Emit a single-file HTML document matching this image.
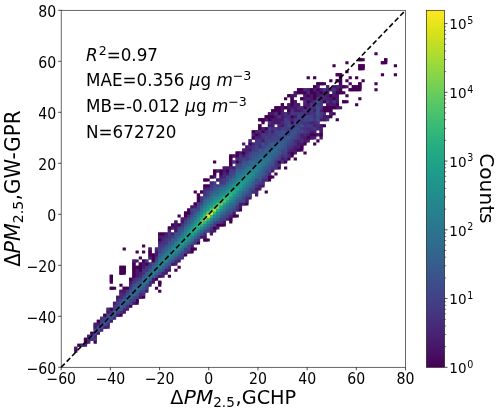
<!DOCTYPE html>
<html><head><meta charset="utf-8"><title>Scatter density</title>
<style>html,body{margin:0;padding:0;background:#fff}svg{display:block}text{font-family:"DejaVu Sans","Liberation Sans",sans-serif;fill:#000}.i{font-style:italic}</style></head><body>
<svg width="500" height="413" viewBox="0 0 500 413">
<rect width="500" height="413" fill="#fff"/>
<defs><linearGradient id="vg" x1="0" y1="1" x2="0" y2="0">
<stop offset="0.0000" stop-color="#440154"/>
<stop offset="0.0312" stop-color="#470d60"/>
<stop offset="0.0625" stop-color="#48186a"/>
<stop offset="0.0938" stop-color="#482374"/>
<stop offset="0.1250" stop-color="#472d7b"/>
<stop offset="0.1562" stop-color="#453781"/>
<stop offset="0.1875" stop-color="#424086"/>
<stop offset="0.2188" stop-color="#3e4989"/>
<stop offset="0.2500" stop-color="#3b528b"/>
<stop offset="0.2812" stop-color="#375b8d"/>
<stop offset="0.3125" stop-color="#33638d"/>
<stop offset="0.3438" stop-color="#2f6b8e"/>
<stop offset="0.3750" stop-color="#2c728e"/>
<stop offset="0.4062" stop-color="#297a8e"/>
<stop offset="0.4375" stop-color="#26828e"/>
<stop offset="0.4688" stop-color="#23898e"/>
<stop offset="0.5000" stop-color="#21918c"/>
<stop offset="0.5312" stop-color="#1f988b"/>
<stop offset="0.5625" stop-color="#1fa088"/>
<stop offset="0.5938" stop-color="#22a785"/>
<stop offset="0.6250" stop-color="#28ae80"/>
<stop offset="0.6562" stop-color="#32b67a"/>
<stop offset="0.6875" stop-color="#3fbc73"/>
<stop offset="0.7188" stop-color="#4ec36b"/>
<stop offset="0.7500" stop-color="#5ec962"/>
<stop offset="0.7812" stop-color="#70cf57"/>
<stop offset="0.8125" stop-color="#84d44b"/>
<stop offset="0.8438" stop-color="#98d83e"/>
<stop offset="0.8750" stop-color="#addc30"/>
<stop offset="0.9062" stop-color="#c2df23"/>
<stop offset="0.9375" stop-color="#d8e219"/>
<stop offset="0.9688" stop-color="#ece51b"/>
<stop offset="1.0000" stop-color="#fde725"/>
</linearGradient></defs>
<g id="cells-under">
<path fill="#48186a" d="M74.2 346.79h3.23v4.01h-3.23zM93.57 325.75h4.23v3.01h-4.23zM93.57 325.75h3.23v4.01h-3.23zM96.8 322.74h4.23v3.01h-4.23zM96.8 322.74h3.23v4.01h-3.23zM106.48 310.72h4.23v3.01h-4.23zM106.48 310.72h3.23v4.01h-3.23zM112.94 301.7h4.23v3.01h-4.23zM112.94 301.7h3.23v4.01h-3.23zM116.16 313.72h4.23v3.01h-4.23zM116.16 295.69h4.23v3.01h-4.23zM116.16 295.69h3.23v4.01h-3.23zM119.39 289.67h4.23v3.01h-4.23zM119.39 289.67h3.23v4.01h-3.23zM122.62 289.67h4.23v3.01h-4.23zM122.62 289.67h3.23v4.01h-3.23zM129.08 280.66h4.23v3.01h-4.23zM129.08 280.66h3.23v4.01h-3.23zM132.3 301.7h4.23v3.01h-4.23zM135.53 274.64h4.23v3.01h-4.23zM135.53 274.64h3.23v4.01h-3.23zM135.53 271.64h4.23v3.01h-4.23zM135.53 271.64h3.23v4.01h-3.23zM135.53 268.63h4.23v3.01h-4.23zM135.53 268.63h3.23v4.01h-3.23zM138.76 295.69h4.23v3.01h-4.23zM141.99 265.63h4.23v3.01h-4.23zM141.99 265.63h3.23v4.01h-3.23zM141.99 262.62h4.23v3.01h-4.23zM141.99 262.62h3.23v4.01h-3.23zM148.44 247.59h3.23v4.01h-3.23zM151.67 277.65h4.23v3.01h-4.23zM151.67 277.65h3.23v4.01h-3.23zM154.9 253.6h4.23v3.01h-4.23zM154.9 253.6h3.23v4.01h-3.23zM154.9 250.6h4.23v3.01h-4.23zM154.9 250.6h3.23v4.01h-3.23zM158.13 274.64h4.23v3.01h-4.23zM158.13 235.57h4.23v3.01h-4.23zM158.13 235.57h3.23v4.01h-3.23zM164.58 232.56h4.23v3.01h-4.23zM164.58 232.56h3.23v4.01h-3.23zM171.04 262.62h4.23v3.01h-4.23zM174.27 229.55h4.23v3.01h-4.23zM174.27 229.55h3.23v4.01h-3.23zM174.27 226.55h4.23v3.01h-4.23zM174.27 226.55h3.23v4.01h-3.23zM174.27 223.54h4.23v3.01h-4.23zM174.27 223.54h3.23v4.01h-3.23zM174.27 220.54h3.23v4.01h-3.23zM180.72 220.54h4.23v3.01h-4.23zM180.72 220.54h3.23v4.01h-3.23zM180.72 217.53h4.23v3.01h-4.23zM180.72 217.53h3.23v4.01h-3.23zM190.41 205.51h4.23v3.01h-4.23zM190.41 205.51h3.23v4.01h-3.23zM200.09 235.57h4.23v3.01h-4.23zM203.32 235.57h3.23v4.01h-3.23zM216.23 178.45h4.23v3.01h-4.23zM219.46 175.45h4.23v3.01h-4.23zM219.46 175.45h3.23v4.01h-3.23zM222.69 220.54h3.23v4.01h-3.23zM222.69 169.43h4.23v3.01h-4.23zM222.69 169.43h3.23v4.01h-3.23zM222.69 166.43h4.23v3.01h-4.23zM222.69 166.43h3.23v4.01h-3.23zM225.92 172.44h4.23v3.01h-4.23zM225.92 172.44h3.23v4.01h-3.23zM225.92 166.43h4.23v3.01h-4.23zM225.92 166.43h3.23v4.01h-3.23zM232.37 211.52h3.23v4.01h-3.23zM232.37 166.43h4.23v3.01h-4.23zM232.37 166.43h3.23v4.01h-3.23zM232.37 154.4h4.23v3.01h-4.23zM238.83 205.51h3.23v4.01h-3.23zM238.83 202.5h4.23v3.01h-4.23zM238.83 202.5h3.23v4.01h-3.23zM238.83 151.4h4.23v3.01h-4.23zM238.83 151.4h3.23v4.01h-3.23zM242.06 202.5h4.23v3.01h-4.23zM242.06 154.4h4.23v3.01h-4.23zM242.06 154.4h3.23v4.01h-3.23zM245.28 145.39h4.23v3.01h-4.23zM245.28 145.39h3.23v4.01h-3.23zM248.51 148.39h4.23v3.01h-4.23zM248.51 148.39h3.23v4.01h-3.23zM254.97 187.47h4.23v3.01h-4.23zM254.97 187.47h3.23v4.01h-3.23zM258.2 133.36h4.23v3.01h-4.23zM258.2 133.36h3.23v4.01h-3.23zM261.42 139.37h4.23v3.01h-4.23zM261.42 139.37h3.23v4.01h-3.23zM264.65 118.33h4.23v3.01h-4.23zM267.88 124.34h4.23v3.01h-4.23zM267.88 124.34h3.23v4.01h-3.23zM267.88 112.32h4.23v3.01h-4.23zM267.88 112.32h3.23v4.01h-3.23zM271.11 124.34h3.23v4.01h-3.23zM271.11 118.33h4.23v3.01h-4.23zM271.11 118.33h3.23v4.01h-3.23zM271.11 112.32h4.23v3.01h-4.23zM271.11 112.32h3.23v4.01h-3.23zM274.34 121.34h4.23v3.01h-4.23zM274.34 118.33h4.23v3.01h-4.23zM274.34 118.33h3.23v4.01h-3.23zM274.34 115.33h4.23v3.01h-4.23zM274.34 115.33h3.23v4.01h-3.23zM277.56 121.34h4.23v3.01h-4.23zM277.56 121.34h3.23v4.01h-3.23zM277.56 118.33h4.23v3.01h-4.23zM277.56 118.33h3.23v4.01h-3.23zM280.79 157.41h4.23v3.01h-4.23zM280.79 157.41h3.23v4.01h-3.23zM280.79 124.34h4.23v3.01h-4.23zM280.79 124.34h3.23v4.01h-3.23zM280.79 118.33h4.23v3.01h-4.23zM280.79 118.33h3.23v4.01h-3.23zM280.79 115.33h4.23v3.01h-4.23zM280.79 115.33h3.23v4.01h-3.23zM280.79 109.31h3.23v4.01h-3.23zM280.79 106.31h4.23v3.01h-4.23zM280.79 106.31h3.23v4.01h-3.23zM287.25 151.4h4.23v3.01h-4.23zM287.25 151.4h3.23v4.01h-3.23zM287.25 112.32h4.23v3.01h-4.23zM287.25 112.32h3.23v4.01h-3.23zM287.25 106.31h4.23v3.01h-4.23zM287.25 106.31h3.23v4.01h-3.23zM287.25 103.3h4.23v3.01h-4.23zM287.25 103.3h3.23v4.01h-3.23zM290.48 106.31h4.23v3.01h-4.23zM290.48 106.31h3.23v4.01h-3.23zM290.48 94.28h4.23v3.01h-4.23zM290.48 94.28h3.23v4.01h-3.23zM293.7 148.39h4.23v3.01h-4.23zM293.7 148.39h3.23v4.01h-3.23zM293.7 145.39h4.23v3.01h-4.23zM293.7 145.39h3.23v4.01h-3.23zM293.7 115.33h4.23v3.01h-4.23zM293.7 115.33h3.23v4.01h-3.23zM293.7 109.31h4.23v3.01h-4.23zM293.7 109.31h3.23v4.01h-3.23zM293.7 106.31h4.23v3.01h-4.23zM293.7 106.31h3.23v4.01h-3.23zM293.7 100.3h3.23v4.01h-3.23zM293.7 91.28h4.23v3.01h-4.23zM293.7 91.28h3.23v4.01h-3.23zM296.93 142.38h4.23v3.01h-4.23zM296.93 142.38h3.23v4.01h-3.23zM296.93 109.31h4.23v3.01h-4.23zM296.93 109.31h3.23v4.01h-3.23zM296.93 103.3h3.23v4.01h-3.23zM300.16 142.38h4.23v3.01h-4.23zM300.16 142.38h3.23v4.01h-3.23zM303.39 139.37h4.23v3.01h-4.23zM303.39 139.37h3.23v4.01h-3.23zM303.39 136.37h4.23v3.01h-4.23zM303.39 136.37h3.23v4.01h-3.23zM303.39 97.29h4.23v3.01h-4.23zM303.39 97.29h3.23v4.01h-3.23zM303.39 94.28h4.23v3.01h-4.23zM303.39 94.28h3.23v4.01h-3.23zM306.62 133.36h4.23v3.01h-4.23zM306.62 133.36h3.23v4.01h-3.23zM306.62 103.3h4.23v3.01h-4.23zM306.62 103.3h3.23v4.01h-3.23zM309.84 136.37h4.23v3.01h-4.23zM309.84 130.36h4.23v3.01h-4.23zM309.84 130.36h3.23v4.01h-3.23zM309.84 100.3h4.23v3.01h-4.23zM309.84 100.3h3.23v4.01h-3.23zM309.84 97.29h4.23v3.01h-4.23zM309.84 97.29h3.23v4.01h-3.23zM309.84 94.28h4.23v3.01h-4.23zM309.84 94.28h3.23v4.01h-3.23zM316.3 133.36h4.23v3.01h-4.23zM316.3 94.28h4.23v3.01h-4.23zM316.3 94.28h3.23v4.01h-3.23zM316.3 91.28h4.23v3.01h-4.23zM316.3 91.28h3.23v4.01h-3.23zM319.53 130.36h3.23v4.01h-3.23zM319.53 124.34h4.23v3.01h-4.23zM319.53 124.34h3.23v4.01h-3.23zM319.53 118.33h4.23v3.01h-4.23zM319.53 88.27h4.23v3.01h-4.23zM319.53 88.27h3.23v4.01h-3.23zM322.76 118.33h4.23v3.01h-4.23zM322.76 115.33h4.23v3.01h-4.23zM322.76 115.33h3.23v4.01h-3.23zM322.76 91.28h4.23v3.01h-4.23zM322.76 91.28h3.23v4.01h-3.23zM325.98 115.33h4.23v3.01h-4.23zM325.98 115.33h3.23v4.01h-3.23zM325.98 103.3h4.23v3.01h-4.23zM325.98 103.3h3.23v4.01h-3.23zM325.98 94.28h4.23v3.01h-4.23zM325.98 94.28h3.23v4.01h-3.23zM325.98 91.28h3.23v4.01h-3.23zM329.21 103.3h4.23v3.01h-4.23zM329.21 103.3h3.23v4.01h-3.23zM329.21 100.3h4.23v3.01h-4.23zM329.21 100.3h3.23v4.01h-3.23zM329.21 97.29h4.23v3.01h-4.23zM329.21 97.29h3.23v4.01h-3.23zM332.44 103.3h4.23v3.01h-4.23zM332.44 103.3h3.23v4.01h-3.23zM332.44 94.28h4.23v3.01h-4.23zM332.44 94.28h3.23v4.01h-3.23zM332.44 85.27h4.23v3.01h-4.23zM332.44 85.27h3.23v4.01h-3.23zM335.67 106.31h4.23v3.01h-4.23zM335.67 100.3h3.23v4.01h-3.23zM335.67 97.29h3.23v4.01h-3.23zM335.67 94.28h3.23v4.01h-3.23zM335.67 88.27h4.23v3.01h-4.23zM335.67 88.27h3.23v4.01h-3.23zM338.9 85.27h4.23v3.01h-4.23zM338.9 85.27h3.23v4.01h-3.23z"/>
<path fill="#440154" d="M77.43 343.78h4.23v3.01h-4.23zM83.88 340.78h4.23v3.01h-4.23zM83.88 340.78h3.23v4.01h-3.23zM83.88 337.77h4.23v3.01h-4.23zM83.88 337.77h3.23v4.01h-3.23zM90.34 331.76h4.23v3.01h-4.23zM90.34 331.76h3.23v4.01h-3.23zM96.8 319.73h4.23v3.01h-4.23zM96.8 319.73h3.23v4.01h-3.23zM103.25 313.72h4.23v3.01h-4.23zM103.25 313.72h3.23v4.01h-3.23zM109.71 307.71h4.23v3.01h-4.23zM109.71 307.71h3.23v4.01h-3.23zM122.62 286.67h4.23v3.01h-4.23zM122.62 286.67h3.23v4.01h-3.23zM125.85 286.67h4.23v3.01h-4.23zM125.85 286.67h3.23v4.01h-3.23zM129.08 277.65h4.23v3.01h-4.23zM129.08 277.65h3.23v4.01h-3.23zM132.3 274.64h4.23v3.01h-4.23zM132.3 274.64h3.23v4.01h-3.23zM132.3 271.64h4.23v3.01h-4.23zM132.3 271.64h3.23v4.01h-3.23zM132.3 268.63h4.23v3.01h-4.23zM132.3 268.63h3.23v4.01h-3.23zM132.3 265.63h4.23v3.01h-4.23zM132.3 265.63h3.23v4.01h-3.23zM132.3 262.62h3.23v4.01h-3.23zM135.53 298.69h3.23v4.01h-3.23zM135.53 265.63h4.23v3.01h-4.23zM135.53 265.63h3.23v4.01h-3.23zM138.76 268.63h4.23v3.01h-4.23zM138.76 268.63h3.23v4.01h-3.23zM138.76 265.63h4.23v3.01h-4.23zM138.76 265.63h3.23v4.01h-3.23zM138.76 262.62h4.23v3.01h-4.23zM138.76 262.62h3.23v4.01h-3.23zM141.99 259.61h4.23v3.01h-4.23zM141.99 259.61h3.23v4.01h-3.23zM145.22 262.62h4.23v3.01h-4.23zM145.22 262.62h3.23v4.01h-3.23zM148.44 253.6h4.23v3.01h-4.23zM148.44 253.6h3.23v4.01h-3.23zM148.44 250.6h3.23v4.01h-3.23zM151.67 259.61h4.23v3.01h-4.23zM151.67 259.61h3.23v4.01h-3.23zM151.67 256.61h4.23v3.01h-4.23zM151.67 256.61h3.23v4.01h-3.23zM151.67 253.6h4.23v3.01h-4.23zM151.67 253.6h3.23v4.01h-3.23zM158.13 280.66h3.23v4.01h-3.23zM158.13 238.57h4.23v3.01h-4.23zM158.13 238.57h3.23v4.01h-3.23zM158.13 232.56h4.23v3.01h-4.23zM158.13 232.56h3.23v4.01h-3.23zM161.36 232.56h4.23v3.01h-4.23zM161.36 232.56h3.23v4.01h-3.23zM167.81 226.55h4.23v3.01h-4.23zM167.81 226.55h3.23v4.01h-3.23zM171.04 223.54h4.23v3.01h-4.23zM171.04 223.54h3.23v4.01h-3.23zM177.5 223.54h4.23v3.01h-4.23zM177.5 223.54h3.23v4.01h-3.23zM183.95 214.52h4.23v3.01h-4.23zM183.95 214.52h3.23v4.01h-3.23zM183.95 211.52h4.23v3.01h-4.23zM183.95 211.52h3.23v4.01h-3.23zM187.18 211.52h4.23v3.01h-4.23zM187.18 211.52h3.23v4.01h-3.23zM187.18 208.51h4.23v3.01h-4.23zM187.18 208.51h3.23v4.01h-3.23zM190.41 247.59h4.23v3.01h-4.23zM190.41 247.59h3.23v4.01h-3.23zM193.64 202.5h4.23v3.01h-4.23zM193.64 202.5h3.23v4.01h-3.23zM196.86 199.49h4.23v3.01h-4.23zM196.86 199.49h3.23v4.01h-3.23zM196.86 196.49h4.23v3.01h-4.23zM196.86 196.49h3.23v4.01h-3.23zM196.86 193.48h3.23v4.01h-3.23zM200.09 190.48h4.23v3.01h-4.23zM203.32 238.57h4.23v3.01h-4.23zM203.32 184.46h4.23v3.01h-4.23zM203.32 184.46h3.23v4.01h-3.23zM203.32 178.45h4.23v3.01h-4.23zM206.55 184.46h4.23v3.01h-4.23zM206.55 184.46h3.23v4.01h-3.23zM209.78 175.45h4.23v3.01h-4.23zM213 226.55h4.23v3.01h-4.23zM213 226.55h3.23v4.01h-3.23zM213 172.44h3.23v4.01h-3.23zM213 169.43h4.23v3.01h-4.23zM213 169.43h3.23v4.01h-3.23zM216.23 223.54h4.23v3.01h-4.23zM216.23 223.54h3.23v4.01h-3.23zM219.46 223.54h4.23v3.01h-4.23zM219.46 172.44h4.23v3.01h-4.23zM219.46 172.44h3.23v4.01h-3.23zM219.46 169.43h4.23v3.01h-4.23zM219.46 169.43h3.23v4.01h-3.23zM225.92 169.43h4.23v3.01h-4.23zM225.92 169.43h3.23v4.01h-3.23zM229.14 217.53h3.23v4.01h-3.23zM229.14 163.42h3.23v4.01h-3.23zM229.14 160.42h4.23v3.01h-4.23zM229.14 160.42h3.23v4.01h-3.23zM229.14 154.4h4.23v3.01h-4.23zM229.14 154.4h3.23v4.01h-3.23zM232.37 214.52h4.23v3.01h-4.23zM235.6 160.42h4.23v3.01h-4.23zM235.6 160.42h3.23v4.01h-3.23zM235.6 154.4h4.23v3.01h-4.23zM235.6 154.4h3.23v4.01h-3.23zM235.6 151.4h4.23v3.01h-4.23zM235.6 151.4h3.23v4.01h-3.23zM242.06 151.4h4.23v3.01h-4.23zM242.06 151.4h3.23v4.01h-3.23zM248.51 142.38h4.23v3.01h-4.23zM248.51 142.38h3.23v4.01h-3.23zM251.74 136.37h4.23v3.01h-4.23zM251.74 130.36h4.23v3.01h-4.23zM251.74 130.36h3.23v4.01h-3.23zM254.97 133.36h4.23v3.01h-4.23zM254.97 133.36h3.23v4.01h-3.23zM258.2 127.35h4.23v3.01h-4.23zM258.2 127.35h3.23v4.01h-3.23zM258.2 124.34h3.23v4.01h-3.23zM258.2 118.33h4.23v3.01h-4.23zM261.42 130.36h4.23v3.01h-4.23zM261.42 130.36h3.23v4.01h-3.23zM261.42 118.33h4.23v3.01h-4.23zM261.42 118.33h3.23v4.01h-3.23zM264.65 127.35h4.23v3.01h-4.23zM264.65 127.35h3.23v4.01h-3.23zM264.65 115.33h4.23v3.01h-4.23zM264.65 115.33h3.23v4.01h-3.23zM267.88 175.45h4.23v3.01h-4.23zM267.88 175.45h3.23v4.01h-3.23zM267.88 118.33h4.23v3.01h-4.23zM267.88 118.33h3.23v4.01h-3.23zM267.88 115.33h4.23v3.01h-4.23zM267.88 115.33h3.23v4.01h-3.23zM271.11 115.33h4.23v3.01h-4.23zM271.11 115.33h3.23v4.01h-3.23zM271.11 109.31h4.23v3.01h-4.23zM271.11 109.31h3.23v4.01h-3.23zM274.34 109.31h4.23v3.01h-4.23zM274.34 109.31h3.23v4.01h-3.23zM274.34 106.31h4.23v3.01h-4.23zM274.34 106.31h3.23v4.01h-3.23zM277.56 160.42h4.23v3.01h-4.23zM277.56 160.42h3.23v4.01h-3.23zM277.56 112.32h4.23v3.01h-4.23zM277.56 112.32h3.23v4.01h-3.23zM277.56 109.31h4.23v3.01h-4.23zM277.56 109.31h3.23v4.01h-3.23zM277.56 106.31h4.23v3.01h-4.23zM277.56 106.31h3.23v4.01h-3.23zM280.79 103.3h3.23v4.01h-3.23zM284.02 106.31h4.23v3.01h-4.23zM287.25 109.31h4.23v3.01h-4.23zM287.25 109.31h3.23v4.01h-3.23zM287.25 94.28h4.23v3.01h-4.23zM290.48 151.4h4.23v3.01h-4.23zM290.48 151.4h3.23v4.01h-3.23zM290.48 121.34h4.23v3.01h-4.23zM290.48 121.34h3.23v4.01h-3.23zM290.48 115.33h4.23v3.01h-4.23zM290.48 115.33h3.23v4.01h-3.23zM290.48 103.3h4.23v3.01h-4.23zM290.48 103.3h3.23v4.01h-3.23zM290.48 100.3h4.23v3.01h-4.23zM290.48 100.3h3.23v4.01h-3.23zM290.48 97.29h3.23v4.01h-3.23zM296.93 148.39h4.23v3.01h-4.23zM296.93 91.28h4.23v3.01h-4.23zM296.93 88.27h4.23v3.01h-4.23zM296.93 88.27h3.23v4.01h-3.23zM300.16 145.39h3.23v4.01h-3.23zM300.16 97.29h4.23v3.01h-4.23zM300.16 91.28h4.23v3.01h-4.23zM300.16 88.27h4.23v3.01h-4.23zM300.16 88.27h3.23v4.01h-3.23zM303.39 106.31h4.23v3.01h-4.23zM303.39 106.31h3.23v4.01h-3.23zM303.39 91.28h4.23v3.01h-4.23zM303.39 91.28h3.23v4.01h-3.23zM306.62 136.37h4.23v3.01h-4.23zM306.62 136.37h3.23v4.01h-3.23zM306.62 100.3h4.23v3.01h-4.23zM306.62 100.3h3.23v4.01h-3.23zM306.62 94.28h4.23v3.01h-4.23zM306.62 94.28h3.23v4.01h-3.23zM309.84 133.36h4.23v3.01h-4.23zM309.84 133.36h3.23v4.01h-3.23zM309.84 91.28h4.23v3.01h-4.23zM309.84 91.28h3.23v4.01h-3.23zM309.84 88.27h4.23v3.01h-4.23zM309.84 88.27h3.23v4.01h-3.23zM313.07 133.36h4.23v3.01h-4.23zM313.07 133.36h3.23v4.01h-3.23zM313.07 97.29h4.23v3.01h-4.23zM313.07 97.29h3.23v4.01h-3.23zM313.07 94.28h4.23v3.01h-4.23zM313.07 94.28h3.23v4.01h-3.23zM313.07 91.28h4.23v3.01h-4.23zM313.07 91.28h3.23v4.01h-3.23zM313.07 85.27h4.23v3.01h-4.23zM313.07 85.27h3.23v4.01h-3.23zM316.3 88.27h4.23v3.01h-4.23zM316.3 88.27h3.23v4.01h-3.23zM319.53 133.36h3.23v4.01h-3.23zM319.53 91.28h4.23v3.01h-4.23zM319.53 91.28h3.23v4.01h-3.23zM322.76 109.31h4.23v3.01h-4.23zM322.76 109.31h3.23v4.01h-3.23zM322.76 106.31h4.23v3.01h-4.23zM322.76 106.31h3.23v4.01h-3.23zM322.76 100.3h4.23v3.01h-4.23zM325.98 109.31h4.23v3.01h-4.23zM325.98 106.31h4.23v3.01h-4.23zM325.98 106.31h3.23v4.01h-3.23zM329.21 109.31h3.23v4.01h-3.23zM329.21 106.31h4.23v3.01h-4.23zM329.21 106.31h3.23v4.01h-3.23zM329.21 94.28h4.23v3.01h-4.23zM329.21 94.28h3.23v4.01h-3.23zM332.44 106.31h4.23v3.01h-4.23zM332.44 97.29h4.23v3.01h-4.23zM332.44 97.29h3.23v4.01h-3.23zM335.67 103.3h3.23v4.01h-3.23zM335.67 91.28h4.23v3.01h-4.23zM335.67 91.28h3.23v4.01h-3.23zM338.9 91.28h4.23v3.01h-4.23zM338.9 88.27h3.23v4.01h-3.23zM342.12 100.3h4.23v3.01h-4.23zM342.12 85.27h4.23v3.01h-4.23zM348.58 88.27h4.23v3.01h-4.23zM355.04 85.27h4.23v3.01h-4.23zM355.04 85.27h3.23v4.01h-3.23zM229.14 157.41h3.23v4.01h-3.23zM119.39 268.63h4.23v3.01h-4.23zM119.39 268.63h3.23v4.01h-3.23zM119.39 265.63h4.23v3.01h-4.23zM119.39 265.63h3.23v4.01h-3.23zM109.71 277.65h3.23v4.01h-3.23zM109.71 274.64h3.23v4.01h-3.23zM109.71 286.67h4.23v3.01h-4.23zM119.39 271.64h4.23v3.01h-4.23zM122.62 268.63h3.23v4.01h-3.23zM122.62 265.63h3.23v4.01h-3.23zM358.26 58.21h4.23v3.01h-4.23zM358.26 67.23h4.23v3.01h-4.23zM358.26 64.22h4.23v3.01h-4.23zM358.26 64.22h3.23v4.01h-3.23zM361.49 64.22h3.23v4.01h-3.23zM384.09 58.21h3.23v4.01h-3.23zM380.86 61.22h4.23v3.01h-4.23zM358.26 82.26h3.23v4.01h-3.23zM358.26 85.27h3.23v4.01h-3.23zM351.81 85.27h4.23v3.01h-4.23zM351.81 85.27h3.23v4.01h-3.23zM351.81 88.27h4.23v3.01h-4.23zM355.04 88.27h4.23v3.01h-4.23zM335.67 73.24h4.23v3.01h-4.23zM338.9 73.24h3.23v4.01h-3.23zM338.9 76.25h3.23v4.01h-3.23zM335.67 79.25h4.23v3.01h-4.23zM338.9 79.25h3.23v4.01h-3.23zM316.3 82.26h4.23v3.01h-4.23zM316.3 82.26h3.23v4.01h-3.23zM319.53 82.26h4.23v3.01h-4.23zM338.9 82.26h3.23v4.01h-3.23z"/>
<path fill="#482878" d="M80.66 343.78h4.23v3.01h-4.23zM87.11 337.77h4.23v3.01h-4.23zM87.11 337.77h3.23v4.01h-3.23zM93.57 334.76h3.23v4.01h-3.23zM106.48 322.74h3.23v4.01h-3.23zM106.48 307.71h4.23v3.01h-4.23zM106.48 307.71h3.23v4.01h-3.23zM116.16 298.69h4.23v3.01h-4.23zM116.16 298.69h3.23v4.01h-3.23zM119.39 310.72h4.23v3.01h-4.23zM119.39 310.72h3.23v4.01h-3.23zM119.39 295.69h4.23v3.01h-4.23zM119.39 295.69h3.23v4.01h-3.23zM119.39 292.68h4.23v3.01h-4.23zM119.39 292.68h3.23v4.01h-3.23zM122.62 307.71h4.23v3.01h-4.23zM122.62 307.71h3.23v4.01h-3.23zM122.62 292.68h4.23v3.01h-4.23zM122.62 292.68h3.23v4.01h-3.23zM129.08 283.66h4.23v3.01h-4.23zM129.08 283.66h3.23v4.01h-3.23zM138.76 292.68h4.23v3.01h-4.23zM138.76 292.68h3.23v4.01h-3.23zM138.76 274.64h4.23v3.01h-4.23zM138.76 274.64h3.23v4.01h-3.23zM154.9 247.59h4.23v3.01h-4.23zM154.9 247.59h3.23v4.01h-3.23zM158.13 241.58h4.23v3.01h-4.23zM158.13 241.58h3.23v4.01h-3.23zM161.36 238.57h4.23v3.01h-4.23zM161.36 238.57h3.23v4.01h-3.23zM164.58 235.57h4.23v3.01h-4.23zM164.58 235.57h3.23v4.01h-3.23zM174.27 259.61h4.23v3.01h-4.23zM174.27 259.61h3.23v4.01h-3.23zM183.95 217.53h4.23v3.01h-4.23zM183.95 217.53h3.23v4.01h-3.23zM187.18 214.52h4.23v3.01h-4.23zM187.18 214.52h3.23v4.01h-3.23zM203.32 232.56h3.23v4.01h-3.23zM206.55 187.47h4.23v3.01h-4.23zM206.55 187.47h3.23v4.01h-3.23zM209.78 181.46h4.23v3.01h-4.23zM209.78 181.46h3.23v4.01h-3.23zM222.69 175.45h4.23v3.01h-4.23zM222.69 175.45h3.23v4.01h-3.23zM222.69 172.44h4.23v3.01h-4.23zM222.69 172.44h3.23v4.01h-3.23zM229.14 166.43h4.23v3.01h-4.23zM229.14 166.43h3.23v4.01h-3.23zM235.6 208.51h4.23v3.01h-4.23zM235.6 157.41h4.23v3.01h-4.23zM235.6 157.41h3.23v4.01h-3.23zM245.28 196.49h4.23v3.01h-4.23zM245.28 196.49h3.23v4.01h-3.23zM245.28 151.4h4.23v3.01h-4.23zM245.28 151.4h3.23v4.01h-3.23zM248.51 145.39h4.23v3.01h-4.23zM248.51 145.39h3.23v4.01h-3.23zM248.51 139.37h3.23v4.01h-3.23zM251.74 190.48h4.23v3.01h-4.23zM251.74 142.38h4.23v3.01h-4.23zM251.74 142.38h3.23v4.01h-3.23zM254.97 190.48h3.23v4.01h-3.23zM258.2 145.39h4.23v3.01h-4.23zM258.2 145.39h3.23v4.01h-3.23zM258.2 130.36h4.23v3.01h-4.23zM258.2 130.36h3.23v4.01h-3.23zM261.42 178.45h4.23v3.01h-4.23zM261.42 178.45h3.23v4.01h-3.23zM264.65 178.45h4.23v3.01h-4.23zM264.65 130.36h4.23v3.01h-4.23zM264.65 130.36h3.23v4.01h-3.23zM267.88 172.44h3.23v4.01h-3.23zM277.56 163.42h3.23v4.01h-3.23zM277.56 127.35h4.23v3.01h-4.23zM277.56 127.35h3.23v4.01h-3.23zM277.56 124.34h4.23v3.01h-4.23zM277.56 124.34h3.23v4.01h-3.23zM280.79 121.34h4.23v3.01h-4.23zM280.79 121.34h3.23v4.01h-3.23zM284.02 157.41h4.23v3.01h-4.23zM284.02 157.41h3.23v4.01h-3.23zM284.02 115.33h4.23v3.01h-4.23zM284.02 115.33h3.23v4.01h-3.23zM287.25 154.4h4.23v3.01h-4.23zM287.25 154.4h3.23v4.01h-3.23zM287.25 148.39h4.23v3.01h-4.23zM287.25 148.39h3.23v4.01h-3.23zM293.7 139.37h4.23v3.01h-4.23zM293.7 139.37h3.23v4.01h-3.23zM296.93 106.31h4.23v3.01h-4.23zM296.93 106.31h3.23v4.01h-3.23zM300.16 106.31h4.23v3.01h-4.23zM300.16 106.31h3.23v4.01h-3.23zM303.39 133.36h4.23v3.01h-4.23zM303.39 133.36h3.23v4.01h-3.23zM303.39 100.3h4.23v3.01h-4.23zM303.39 100.3h3.23v4.01h-3.23zM303.39 88.27h4.23v3.01h-4.23zM303.39 88.27h3.23v4.01h-3.23zM306.62 127.35h4.23v3.01h-4.23zM306.62 127.35h3.23v4.01h-3.23zM306.62 112.32h4.23v3.01h-4.23zM306.62 112.32h3.23v4.01h-3.23zM306.62 109.31h4.23v3.01h-4.23zM306.62 109.31h3.23v4.01h-3.23zM306.62 106.31h4.23v3.01h-4.23zM306.62 106.31h3.23v4.01h-3.23zM306.62 91.28h4.23v3.01h-4.23zM306.62 91.28h3.23v4.01h-3.23zM313.07 121.34h4.23v3.01h-4.23zM313.07 121.34h3.23v4.01h-3.23zM316.3 127.35h4.23v3.01h-4.23zM316.3 124.34h4.23v3.01h-4.23zM316.3 124.34h3.23v4.01h-3.23zM322.76 112.32h3.23v4.01h-3.23zM322.76 97.29h4.23v3.01h-4.23zM322.76 97.29h3.23v4.01h-3.23zM322.76 94.28h4.23v3.01h-4.23zM322.76 94.28h3.23v4.01h-3.23z"/>
<path fill="#482071" d="M87.11 334.76h4.23v3.01h-4.23zM87.11 334.76h3.23v4.01h-3.23zM93.57 322.74h4.23v3.01h-4.23zM93.57 322.74h3.23v4.01h-3.23zM103.25 325.75h4.23v3.01h-4.23zM132.3 277.65h4.23v3.01h-4.23zM132.3 277.65h3.23v4.01h-3.23zM132.3 259.61h4.23v3.01h-4.23zM132.3 259.61h3.23v4.01h-3.23zM138.76 271.64h4.23v3.01h-4.23zM138.76 271.64h3.23v4.01h-3.23zM148.44 256.61h4.23v3.01h-4.23zM161.36 271.64h4.23v3.01h-4.23zM161.36 271.64h3.23v4.01h-3.23zM161.36 235.57h4.23v3.01h-4.23zM161.36 235.57h3.23v4.01h-3.23zM164.58 268.63h4.23v3.01h-4.23zM164.58 268.63h3.23v4.01h-3.23zM167.81 229.55h3.23v4.01h-3.23zM171.04 232.56h4.23v3.01h-4.23zM171.04 232.56h3.23v4.01h-3.23zM171.04 226.55h4.23v3.01h-4.23zM187.18 250.6h4.23v3.01h-4.23zM190.41 244.58h3.23v4.01h-3.23zM193.64 205.51h4.23v3.01h-4.23zM193.64 205.51h3.23v4.01h-3.23zM203.32 187.47h4.23v3.01h-4.23zM203.32 187.47h3.23v4.01h-3.23zM209.78 229.55h4.23v3.01h-4.23zM209.78 229.55h3.23v4.01h-3.23zM216.23 169.43h4.23v3.01h-4.23zM225.92 217.53h4.23v3.01h-4.23zM229.14 214.52h4.23v3.01h-4.23zM229.14 214.52h3.23v4.01h-3.23zM242.06 148.39h4.23v3.01h-4.23zM242.06 148.39h3.23v4.01h-3.23zM245.28 199.49h3.23v4.01h-3.23zM245.28 148.39h4.23v3.01h-4.23zM245.28 148.39h3.23v4.01h-3.23zM251.74 133.36h4.23v3.01h-4.23zM251.74 133.36h3.23v4.01h-3.23zM254.97 136.37h4.23v3.01h-4.23zM254.97 136.37h3.23v4.01h-3.23zM254.97 130.36h4.23v3.01h-4.23zM254.97 130.36h3.23v4.01h-3.23zM258.2 184.46h4.23v3.01h-4.23zM258.2 184.46h3.23v4.01h-3.23zM258.2 136.37h4.23v3.01h-4.23zM258.2 136.37h3.23v4.01h-3.23zM261.42 127.35h4.23v3.01h-4.23zM261.42 127.35h3.23v4.01h-3.23zM271.11 130.36h4.23v3.01h-4.23zM271.11 130.36h3.23v4.01h-3.23zM271.11 121.34h4.23v3.01h-4.23zM271.11 121.34h3.23v4.01h-3.23zM280.79 112.32h4.23v3.01h-4.23zM280.79 112.32h3.23v4.01h-3.23zM290.48 148.39h4.23v3.01h-4.23zM290.48 148.39h3.23v4.01h-3.23zM290.48 118.33h4.23v3.01h-4.23zM290.48 118.33h3.23v4.01h-3.23zM293.7 103.3h4.23v3.01h-4.23zM293.7 103.3h3.23v4.01h-3.23zM296.93 145.39h4.23v3.01h-4.23zM296.93 145.39h3.23v4.01h-3.23zM296.93 139.37h4.23v3.01h-4.23zM296.93 139.37h3.23v4.01h-3.23zM300.16 136.37h4.23v3.01h-4.23zM300.16 136.37h3.23v4.01h-3.23zM300.16 133.36h4.23v3.01h-4.23zM300.16 133.36h3.23v4.01h-3.23zM300.16 109.31h4.23v3.01h-4.23zM300.16 109.31h3.23v4.01h-3.23zM303.39 103.3h4.23v3.01h-4.23zM303.39 103.3h3.23v4.01h-3.23zM306.62 97.29h4.23v3.01h-4.23zM306.62 97.29h3.23v4.01h-3.23zM306.62 88.27h4.23v3.01h-4.23zM306.62 88.27h3.23v4.01h-3.23zM309.84 121.34h4.23v3.01h-4.23zM309.84 121.34h3.23v4.01h-3.23zM313.07 130.36h3.23v4.01h-3.23zM313.07 124.34h4.23v3.01h-4.23zM313.07 124.34h3.23v4.01h-3.23zM313.07 109.31h4.23v3.01h-4.23zM313.07 109.31h3.23v4.01h-3.23zM313.07 88.27h4.23v3.01h-4.23zM313.07 88.27h3.23v4.01h-3.23zM316.3 85.27h3.23v4.01h-3.23zM319.53 127.35h3.23v4.01h-3.23zM319.53 109.31h4.23v3.01h-4.23zM319.53 109.31h3.23v4.01h-3.23zM319.53 97.29h4.23v3.01h-4.23zM319.53 97.29h3.23v4.01h-3.23zM319.53 94.28h4.23v3.01h-4.23zM319.53 94.28h3.23v4.01h-3.23zM325.98 97.29h4.23v3.01h-4.23zM325.98 97.29h3.23v4.01h-3.23zM325.98 88.27h4.23v3.01h-4.23zM325.98 88.27h3.23v4.01h-3.23zM325.98 85.27h3.23v4.01h-3.23zM329.21 112.32h4.23v3.01h-4.23zM329.21 112.32h3.23v4.01h-3.23zM329.21 88.27h4.23v3.01h-4.23zM332.44 91.28h4.23v3.01h-4.23zM332.44 91.28h3.23v4.01h-3.23zM335.67 85.27h4.23v3.01h-4.23zM335.67 85.27h3.23v4.01h-3.23z"/>
<path fill="#46307e" d="M90.34 337.77h4.23v3.01h-4.23zM100.02 316.73h4.23v3.01h-4.23zM100.02 316.73h3.23v4.01h-3.23zM109.71 310.72h4.23v3.01h-4.23zM109.71 310.72h3.23v4.01h-3.23zM125.85 304.7h4.23v3.01h-4.23zM125.85 304.7h3.23v4.01h-3.23zM141.99 292.68h3.23v4.01h-3.23zM141.99 271.64h4.23v3.01h-4.23zM141.99 271.64h3.23v4.01h-3.23zM148.44 280.66h4.23v3.01h-4.23zM148.44 280.66h3.23v4.01h-3.23zM148.44 262.62h4.23v3.01h-4.23zM148.44 262.62h3.23v4.01h-3.23zM161.36 241.58h4.23v3.01h-4.23zM161.36 241.58h3.23v4.01h-3.23zM167.81 265.63h3.23v4.01h-3.23zM196.86 238.57h3.23v4.01h-3.23zM203.32 190.48h4.23v3.01h-4.23zM203.32 190.48h3.23v4.01h-3.23zM219.46 220.54h4.23v3.01h-4.23zM219.46 220.54h3.23v4.01h-3.23zM238.83 160.42h4.23v3.01h-4.23zM238.83 160.42h3.23v4.01h-3.23zM261.42 181.46h3.23v4.01h-3.23zM261.42 136.37h4.23v3.01h-4.23zM261.42 136.37h3.23v4.01h-3.23zM267.88 121.34h4.23v3.01h-4.23zM267.88 121.34h3.23v4.01h-3.23zM271.11 127.35h4.23v3.01h-4.23zM271.11 127.35h3.23v4.01h-3.23zM274.34 163.42h4.23v3.01h-4.23zM274.34 163.42h3.23v4.01h-3.23zM274.34 112.32h4.23v3.01h-4.23zM274.34 112.32h3.23v4.01h-3.23zM280.79 160.42h4.23v3.01h-4.23zM280.79 154.4h4.23v3.01h-4.23zM280.79 154.4h3.23v4.01h-3.23zM284.02 112.32h4.23v3.01h-4.23zM284.02 112.32h3.23v4.01h-3.23zM287.25 118.33h4.23v3.01h-4.23zM287.25 118.33h3.23v4.01h-3.23zM287.25 115.33h4.23v3.01h-4.23zM287.25 115.33h3.23v4.01h-3.23zM290.48 145.39h4.23v3.01h-4.23zM290.48 145.39h3.23v4.01h-3.23zM293.7 142.38h4.23v3.01h-4.23zM293.7 142.38h3.23v4.01h-3.23zM300.16 139.37h4.23v3.01h-4.23zM300.16 139.37h3.23v4.01h-3.23zM303.39 127.35h4.23v3.01h-4.23zM303.39 127.35h3.23v4.01h-3.23zM303.39 112.32h4.23v3.01h-4.23zM303.39 112.32h3.23v4.01h-3.23zM306.62 130.36h4.23v3.01h-4.23zM306.62 130.36h3.23v4.01h-3.23zM306.62 121.34h4.23v3.01h-4.23zM306.62 121.34h3.23v4.01h-3.23zM309.84 127.35h4.23v3.01h-4.23zM309.84 127.35h3.23v4.01h-3.23zM313.07 115.33h4.23v3.01h-4.23zM313.07 115.33h3.23v4.01h-3.23zM313.07 106.31h4.23v3.01h-4.23zM313.07 106.31h3.23v4.01h-3.23zM313.07 103.3h4.23v3.01h-4.23zM313.07 103.3h3.23v4.01h-3.23zM313.07 100.3h4.23v3.01h-4.23zM313.07 100.3h3.23v4.01h-3.23zM316.3 97.29h4.23v3.01h-4.23zM316.3 97.29h3.23v4.01h-3.23zM319.53 100.3h4.23v3.01h-4.23zM319.53 100.3h3.23v4.01h-3.23zM325.98 100.3h4.23v3.01h-4.23zM325.98 100.3h3.23v4.01h-3.23z"/>
<path fill="#3e4a89" d="M90.34 334.76h4.23v3.01h-4.23zM90.34 334.76h3.23v4.01h-3.23zM103.25 319.73h4.23v3.01h-4.23zM103.25 319.73h3.23v4.01h-3.23zM125.85 292.68h4.23v3.01h-4.23zM125.85 292.68h3.23v4.01h-3.23zM132.3 295.69h4.23v3.01h-4.23zM132.3 295.69h3.23v4.01h-3.23zM141.99 274.64h4.23v3.01h-4.23zM141.99 274.64h3.23v4.01h-3.23zM154.9 259.61h4.23v3.01h-4.23zM154.9 259.61h3.23v4.01h-3.23zM158.13 271.64h4.23v3.01h-4.23zM158.13 271.64h3.23v4.01h-3.23zM164.58 265.63h4.23v3.01h-4.23zM164.58 265.63h3.23v4.01h-3.23zM177.5 229.55h4.23v3.01h-4.23zM177.5 229.55h3.23v4.01h-3.23zM180.72 226.55h4.23v3.01h-4.23zM180.72 226.55h3.23v4.01h-3.23zM193.64 208.51h4.23v3.01h-4.23zM193.64 208.51h3.23v4.01h-3.23zM196.86 235.57h4.23v3.01h-4.23zM196.86 235.57h3.23v4.01h-3.23zM200.09 232.56h4.23v3.01h-4.23zM200.09 232.56h3.23v4.01h-3.23zM213 184.46h4.23v3.01h-4.23zM213 184.46h3.23v4.01h-3.23zM222.69 214.52h4.23v3.01h-4.23zM222.69 214.52h3.23v4.01h-3.23zM229.14 175.45h4.23v3.01h-4.23zM229.14 175.45h3.23v4.01h-3.23zM232.37 172.44h4.23v3.01h-4.23zM232.37 172.44h3.23v4.01h-3.23zM238.83 199.49h4.23v3.01h-4.23zM238.83 199.49h3.23v4.01h-3.23zM248.51 187.47h4.23v3.01h-4.23zM248.51 187.47h3.23v4.01h-3.23zM248.51 157.41h4.23v3.01h-4.23zM248.51 157.41h3.23v4.01h-3.23zM248.51 154.4h4.23v3.01h-4.23zM248.51 154.4h3.23v4.01h-3.23zM251.74 151.4h4.23v3.01h-4.23zM251.74 151.4h3.23v4.01h-3.23zM254.97 178.45h4.23v3.01h-4.23zM254.97 178.45h3.23v4.01h-3.23zM274.34 157.41h4.23v3.01h-4.23zM274.34 157.41h3.23v4.01h-3.23zM274.34 139.37h4.23v3.01h-4.23zM274.34 139.37h3.23v4.01h-3.23zM277.56 133.36h4.23v3.01h-4.23zM277.56 133.36h3.23v4.01h-3.23zM280.79 133.36h4.23v3.01h-4.23zM280.79 133.36h3.23v4.01h-3.23zM284.02 148.39h4.23v3.01h-4.23zM284.02 148.39h3.23v4.01h-3.23zM287.25 130.36h4.23v3.01h-4.23zM287.25 130.36h3.23v4.01h-3.23zM293.7 133.36h4.23v3.01h-4.23zM293.7 133.36h3.23v4.01h-3.23z"/>
<path fill="#463480" d="M93.57 337.77h3.23v4.01h-3.23zM112.94 304.7h4.23v3.01h-4.23zM112.94 304.7h3.23v4.01h-3.23zM125.85 289.67h4.23v3.01h-4.23zM125.85 289.67h3.23v4.01h-3.23zM132.3 280.66h4.23v3.01h-4.23zM132.3 280.66h3.23v4.01h-3.23zM141.99 268.63h4.23v3.01h-4.23zM141.99 268.63h3.23v4.01h-3.23zM145.22 268.63h4.23v3.01h-4.23zM145.22 268.63h3.23v4.01h-3.23zM145.22 265.63h4.23v3.01h-4.23zM145.22 265.63h3.23v4.01h-3.23zM154.9 256.61h4.23v3.01h-4.23zM154.9 256.61h3.23v4.01h-3.23zM167.81 235.57h4.23v3.01h-4.23zM167.81 235.57h3.23v4.01h-3.23zM167.81 232.56h4.23v3.01h-4.23zM167.81 232.56h3.23v4.01h-3.23zM180.72 223.54h4.23v3.01h-4.23zM180.72 223.54h3.23v4.01h-3.23zM193.64 241.58h4.23v3.01h-4.23zM203.32 193.48h4.23v3.01h-4.23zM203.32 193.48h3.23v4.01h-3.23zM209.78 226.55h4.23v3.01h-4.23zM209.78 226.55h3.23v4.01h-3.23zM209.78 184.46h4.23v3.01h-4.23zM209.78 184.46h3.23v4.01h-3.23zM219.46 181.46h4.23v3.01h-4.23zM219.46 181.46h3.23v4.01h-3.23zM219.46 178.45h4.23v3.01h-4.23zM219.46 178.45h3.23v4.01h-3.23zM235.6 205.51h4.23v3.01h-4.23zM235.6 205.51h3.23v4.01h-3.23zM238.83 157.41h4.23v3.01h-4.23zM238.83 157.41h3.23v4.01h-3.23zM238.83 154.4h4.23v3.01h-4.23zM238.83 154.4h3.23v4.01h-3.23zM251.74 145.39h4.23v3.01h-4.23zM251.74 145.39h3.23v4.01h-3.23zM254.97 139.37h4.23v3.01h-4.23zM254.97 139.37h3.23v4.01h-3.23zM258.2 142.38h4.23v3.01h-4.23zM258.2 142.38h3.23v4.01h-3.23zM258.2 139.37h4.23v3.01h-4.23zM258.2 139.37h3.23v4.01h-3.23zM264.65 133.36h4.23v3.01h-4.23zM264.65 133.36h3.23v4.01h-3.23zM271.11 166.43h4.23v3.01h-4.23zM271.11 166.43h3.23v4.01h-3.23zM274.34 160.42h4.23v3.01h-4.23zM274.34 160.42h3.23v4.01h-3.23zM277.56 115.33h4.23v3.01h-4.23zM277.56 115.33h3.23v4.01h-3.23zM284.02 124.34h4.23v3.01h-4.23zM284.02 124.34h3.23v4.01h-3.23zM290.48 109.31h4.23v3.01h-4.23zM290.48 109.31h3.23v4.01h-3.23zM293.7 112.32h4.23v3.01h-4.23zM293.7 112.32h3.23v4.01h-3.23zM303.39 124.34h4.23v3.01h-4.23zM303.39 124.34h3.23v4.01h-3.23zM303.39 121.34h4.23v3.01h-4.23zM303.39 121.34h3.23v4.01h-3.23zM303.39 109.31h4.23v3.01h-4.23zM303.39 109.31h3.23v4.01h-3.23zM309.84 112.32h4.23v3.01h-4.23zM309.84 112.32h3.23v4.01h-3.23zM309.84 109.31h4.23v3.01h-4.23zM309.84 109.31h3.23v4.01h-3.23zM309.84 106.31h4.23v3.01h-4.23zM309.84 106.31h3.23v4.01h-3.23zM313.07 118.33h4.23v3.01h-4.23zM313.07 118.33h3.23v4.01h-3.23zM313.07 112.32h4.23v3.01h-4.23zM313.07 112.32h3.23v4.01h-3.23zM316.3 121.34h3.23v4.01h-3.23zM319.53 115.33h4.23v3.01h-4.23zM319.53 115.33h3.23v4.01h-3.23zM319.53 106.31h4.23v3.01h-4.23zM319.53 106.31h3.23v4.01h-3.23zM322.76 88.27h4.23v3.01h-4.23zM322.76 88.27h3.23v4.01h-3.23zM332.44 100.3h4.23v3.01h-4.23zM332.44 100.3h3.23v4.01h-3.23z"/>
<path fill="#3d4e8a" d="M93.57 331.76h4.23v3.01h-4.23zM93.57 331.76h3.23v4.01h-3.23zM93.57 328.75h4.23v3.01h-4.23zM93.57 328.75h3.23v4.01h-3.23zM96.8 328.75h4.23v3.01h-4.23zM96.8 328.75h3.23v4.01h-3.23zM100.02 325.75h4.23v3.01h-4.23zM100.02 325.75h3.23v4.01h-3.23zM100.02 322.74h4.23v3.01h-4.23zM100.02 322.74h3.23v4.01h-3.23zM109.71 316.73h4.23v3.01h-4.23zM109.71 316.73h3.23v4.01h-3.23zM112.94 313.72h4.23v3.01h-4.23zM112.94 313.72h3.23v4.01h-3.23zM122.62 304.7h4.23v3.01h-4.23zM122.62 304.7h3.23v4.01h-3.23zM125.85 301.7h4.23v3.01h-4.23zM125.85 301.7h3.23v4.01h-3.23zM132.3 283.66h4.23v3.01h-4.23zM132.3 283.66h3.23v4.01h-3.23zM161.36 268.63h4.23v3.01h-4.23zM161.36 268.63h3.23v4.01h-3.23zM161.36 247.59h4.23v3.01h-4.23zM161.36 247.59h3.23v4.01h-3.23zM164.58 244.58h4.23v3.01h-4.23zM164.58 244.58h3.23v4.01h-3.23zM171.04 259.61h4.23v3.01h-4.23zM171.04 259.61h3.23v4.01h-3.23zM174.27 256.61h4.23v3.01h-4.23zM174.27 256.61h3.23v4.01h-3.23zM190.41 241.58h4.23v3.01h-4.23zM190.41 241.58h3.23v4.01h-3.23zM190.41 214.52h4.23v3.01h-4.23zM190.41 214.52h3.23v4.01h-3.23zM196.86 208.51h4.23v3.01h-4.23zM196.86 208.51h3.23v4.01h-3.23zM200.09 202.5h4.23v3.01h-4.23zM200.09 202.5h3.23v4.01h-3.23zM213 220.54h4.23v3.01h-4.23zM213 220.54h3.23v4.01h-3.23zM225.92 211.52h4.23v3.01h-4.23zM225.92 211.52h3.23v4.01h-3.23zM235.6 202.5h4.23v3.01h-4.23zM235.6 202.5h3.23v4.01h-3.23zM235.6 166.43h4.23v3.01h-4.23zM235.6 166.43h3.23v4.01h-3.23zM242.06 160.42h4.23v3.01h-4.23zM242.06 160.42h3.23v4.01h-3.23zM254.97 181.46h4.23v3.01h-4.23zM254.97 181.46h3.23v4.01h-3.23zM254.97 151.4h4.23v3.01h-4.23zM254.97 151.4h3.23v4.01h-3.23zM261.42 142.38h4.23v3.01h-4.23zM261.42 142.38h3.23v4.01h-3.23zM267.88 166.43h4.23v3.01h-4.23zM267.88 166.43h3.23v4.01h-3.23zM271.11 163.42h4.23v3.01h-4.23zM271.11 163.42h3.23v4.01h-3.23zM277.56 139.37h4.23v3.01h-4.23zM277.56 139.37h3.23v4.01h-3.23zM280.79 130.36h4.23v3.01h-4.23zM280.79 130.36h3.23v4.01h-3.23zM284.02 145.39h4.23v3.01h-4.23zM284.02 145.39h3.23v4.01h-3.23zM284.02 130.36h4.23v3.01h-4.23zM284.02 130.36h3.23v4.01h-3.23zM287.25 139.37h4.23v3.01h-4.23zM287.25 139.37h3.23v4.01h-3.23zM287.25 124.34h4.23v3.01h-4.23zM287.25 124.34h3.23v4.01h-3.23zM290.48 136.37h4.23v3.01h-4.23zM290.48 136.37h3.23v4.01h-3.23zM290.48 130.36h4.23v3.01h-4.23zM290.48 130.36h3.23v4.01h-3.23zM293.7 127.35h4.23v3.01h-4.23zM293.7 127.35h3.23v4.01h-3.23zM296.93 127.35h4.23v3.01h-4.23zM296.93 127.35h3.23v4.01h-3.23zM316.3 118.33h4.23v3.01h-4.23zM316.3 118.33h3.23v4.01h-3.23zM316.3 109.31h4.23v3.01h-4.23zM316.3 109.31h3.23v4.01h-3.23z"/>
<path fill="#414487" d="M96.8 325.75h4.23v3.01h-4.23zM96.8 325.75h3.23v4.01h-3.23zM187.18 247.59h4.23v3.01h-4.23zM187.18 247.59h3.23v4.01h-3.23zM193.64 238.57h4.23v3.01h-4.23zM193.64 238.57h3.23v4.01h-3.23zM196.86 205.51h4.23v3.01h-4.23zM196.86 205.51h3.23v4.01h-3.23zM206.55 190.48h4.23v3.01h-4.23zM206.55 190.48h3.23v4.01h-3.23zM229.14 211.52h4.23v3.01h-4.23zM229.14 211.52h3.23v4.01h-3.23zM229.14 172.44h4.23v3.01h-4.23zM229.14 172.44h3.23v4.01h-3.23zM232.37 208.51h4.23v3.01h-4.23zM232.37 208.51h3.23v4.01h-3.23zM245.28 193.48h4.23v3.01h-4.23zM245.28 193.48h3.23v4.01h-3.23zM251.74 187.47h4.23v3.01h-4.23zM251.74 187.47h3.23v4.01h-3.23zM267.88 169.43h4.23v3.01h-4.23zM267.88 169.43h3.23v4.01h-3.23zM271.11 139.37h4.23v3.01h-4.23zM271.11 139.37h3.23v4.01h-3.23zM274.34 130.36h4.23v3.01h-4.23zM274.34 130.36h3.23v4.01h-3.23zM277.56 130.36h4.23v3.01h-4.23zM277.56 130.36h3.23v4.01h-3.23zM293.7 136.37h4.23v3.01h-4.23zM293.7 136.37h3.23v4.01h-3.23zM306.62 115.33h4.23v3.01h-4.23zM306.62 115.33h3.23v4.01h-3.23z"/>
<path fill="#443b84" d="M100.02 319.73h4.23v3.01h-4.23zM100.02 319.73h3.23v4.01h-3.23zM112.94 307.71h4.23v3.01h-4.23zM112.94 307.71h3.23v4.01h-3.23zM116.16 310.72h4.23v3.01h-4.23zM116.16 310.72h3.23v4.01h-3.23zM129.08 286.67h4.23v3.01h-4.23zM129.08 286.67h3.23v4.01h-3.23zM154.9 274.64h4.23v3.01h-4.23zM154.9 274.64h3.23v4.01h-3.23zM161.36 244.58h4.23v3.01h-4.23zM161.36 244.58h3.23v4.01h-3.23zM167.81 238.57h4.23v3.01h-4.23zM167.81 238.57h3.23v4.01h-3.23zM177.5 256.61h4.23v3.01h-4.23zM177.5 256.61h3.23v4.01h-3.23zM183.95 250.6h4.23v3.01h-4.23zM183.95 250.6h3.23v4.01h-3.23zM196.86 202.5h4.23v3.01h-4.23zM196.86 202.5h3.23v4.01h-3.23zM200.09 199.49h4.23v3.01h-4.23zM200.09 199.49h3.23v4.01h-3.23zM213 181.46h3.23v4.01h-3.23zM222.69 178.45h4.23v3.01h-4.23zM222.69 178.45h3.23v4.01h-3.23zM229.14 169.43h4.23v3.01h-4.23zM229.14 169.43h3.23v4.01h-3.23zM248.51 151.4h4.23v3.01h-4.23zM248.51 151.4h3.23v4.01h-3.23zM251.74 148.39h4.23v3.01h-4.23zM251.74 148.39h3.23v4.01h-3.23zM254.97 142.38h4.23v3.01h-4.23zM254.97 142.38h3.23v4.01h-3.23zM258.2 181.46h4.23v3.01h-4.23zM258.2 181.46h3.23v4.01h-3.23zM264.65 142.38h4.23v3.01h-4.23zM264.65 142.38h3.23v4.01h-3.23zM271.11 133.36h4.23v3.01h-4.23zM271.11 133.36h3.23v4.01h-3.23zM284.02 127.35h4.23v3.01h-4.23zM284.02 127.35h3.23v4.01h-3.23zM290.48 142.38h4.23v3.01h-4.23zM290.48 142.38h3.23v4.01h-3.23zM290.48 112.32h4.23v3.01h-4.23zM290.48 112.32h3.23v4.01h-3.23zM306.62 124.34h4.23v3.01h-4.23zM306.62 124.34h3.23v4.01h-3.23zM309.84 103.3h4.23v3.01h-4.23zM309.84 103.3h3.23v4.01h-3.23z"/>
<path fill="#3b528b" d="M103.25 322.74h4.23v3.01h-4.23zM103.25 322.74h3.23v4.01h-3.23zM106.48 319.73h4.23v3.01h-4.23zM106.48 319.73h3.23v4.01h-3.23zM106.48 316.73h4.23v3.01h-4.23zM106.48 316.73h3.23v4.01h-3.23zM119.39 307.71h4.23v3.01h-4.23zM119.39 307.71h3.23v4.01h-3.23zM119.39 301.7h4.23v3.01h-4.23zM119.39 301.7h3.23v4.01h-3.23zM151.67 262.62h4.23v3.01h-4.23zM151.67 262.62h3.23v4.01h-3.23zM167.81 262.62h4.23v3.01h-4.23zM167.81 262.62h3.23v4.01h-3.23zM174.27 232.56h4.23v3.01h-4.23zM174.27 232.56h3.23v4.01h-3.23zM177.5 253.6h4.23v3.01h-4.23zM177.5 253.6h3.23v4.01h-3.23zM177.5 232.56h4.23v3.01h-4.23zM177.5 232.56h3.23v4.01h-3.23zM180.72 250.6h4.23v3.01h-4.23zM180.72 250.6h3.23v4.01h-3.23zM183.95 223.54h4.23v3.01h-4.23zM183.95 223.54h3.23v4.01h-3.23zM203.32 196.49h4.23v3.01h-4.23zM203.32 196.49h3.23v4.01h-3.23zM206.55 226.55h4.23v3.01h-4.23zM206.55 226.55h3.23v4.01h-3.23zM209.78 223.54h4.23v3.01h-4.23zM209.78 223.54h3.23v4.01h-3.23zM213 187.47h4.23v3.01h-4.23zM213 187.47h3.23v4.01h-3.23zM229.14 208.51h4.23v3.01h-4.23zM229.14 208.51h3.23v4.01h-3.23zM238.83 166.43h4.23v3.01h-4.23zM238.83 166.43h3.23v4.01h-3.23zM245.28 160.42h4.23v3.01h-4.23zM245.28 160.42h3.23v4.01h-3.23zM251.74 184.46h4.23v3.01h-4.23zM251.74 184.46h3.23v4.01h-3.23zM251.74 154.4h4.23v3.01h-4.23zM251.74 154.4h3.23v4.01h-3.23zM258.2 178.45h4.23v3.01h-4.23zM258.2 178.45h3.23v4.01h-3.23zM258.2 151.4h4.23v3.01h-4.23zM258.2 151.4h3.23v4.01h-3.23zM261.42 148.39h4.23v3.01h-4.23zM261.42 148.39h3.23v4.01h-3.23zM264.65 145.39h4.23v3.01h-4.23zM264.65 145.39h3.23v4.01h-3.23zM267.88 142.38h4.23v3.01h-4.23zM267.88 142.38h3.23v4.01h-3.23zM271.11 160.42h4.23v3.01h-4.23zM271.11 160.42h3.23v4.01h-3.23zM280.79 136.37h4.23v3.01h-4.23zM280.79 136.37h3.23v4.01h-3.23zM284.02 142.38h4.23v3.01h-4.23zM284.02 142.38h3.23v4.01h-3.23zM300.16 124.34h4.23v3.01h-4.23zM300.16 124.34h3.23v4.01h-3.23zM316.3 112.32h4.23v3.01h-4.23zM316.3 112.32h3.23v4.01h-3.23zM316.3 106.31h4.23v3.01h-4.23zM316.3 106.31h3.23v4.01h-3.23zM316.3 100.3h4.23v3.01h-4.23zM316.3 100.3h3.23v4.01h-3.23z"/>
<path fill="#453882" d="M103.25 316.73h4.23v3.01h-4.23zM103.25 316.73h3.23v4.01h-3.23zM135.53 277.65h4.23v3.01h-4.23zM135.53 277.65h3.23v4.01h-3.23zM145.22 286.67h3.23v4.01h-3.23zM145.22 259.61h3.23v4.01h-3.23zM158.13 244.58h4.23v3.01h-4.23zM158.13 244.58h3.23v4.01h-3.23zM164.58 241.58h4.23v3.01h-4.23zM164.58 241.58h3.23v4.01h-3.23zM164.58 238.57h4.23v3.01h-4.23zM164.58 238.57h3.23v4.01h-3.23zM190.41 211.52h4.23v3.01h-4.23zM190.41 211.52h3.23v4.01h-3.23zM200.09 196.49h4.23v3.01h-4.23zM200.09 196.49h3.23v4.01h-3.23zM213 223.54h4.23v3.01h-4.23zM213 223.54h3.23v4.01h-3.23zM232.37 160.42h4.23v3.01h-4.23zM245.28 157.41h4.23v3.01h-4.23zM245.28 157.41h3.23v4.01h-3.23zM245.28 154.4h4.23v3.01h-4.23zM245.28 154.4h3.23v4.01h-3.23zM254.97 184.46h4.23v3.01h-4.23zM254.97 184.46h3.23v4.01h-3.23zM261.42 133.36h4.23v3.01h-4.23zM261.42 133.36h3.23v4.01h-3.23zM264.65 175.45h4.23v3.01h-4.23zM264.65 175.45h3.23v4.01h-3.23zM267.88 136.37h4.23v3.01h-4.23zM267.88 136.37h3.23v4.01h-3.23zM267.88 133.36h4.23v3.01h-4.23zM267.88 133.36h3.23v4.01h-3.23zM267.88 130.36h4.23v3.01h-4.23zM267.88 130.36h3.23v4.01h-3.23zM274.34 166.43h4.23v3.01h-4.23zM274.34 127.35h4.23v3.01h-4.23zM274.34 127.35h3.23v4.01h-3.23zM284.02 154.4h4.23v3.01h-4.23zM284.02 154.4h3.23v4.01h-3.23zM284.02 121.34h4.23v3.01h-4.23zM284.02 121.34h3.23v4.01h-3.23zM287.25 145.39h4.23v3.01h-4.23zM287.25 145.39h3.23v4.01h-3.23zM287.25 127.35h4.23v3.01h-4.23zM287.25 127.35h3.23v4.01h-3.23zM290.48 124.34h4.23v3.01h-4.23zM290.48 124.34h3.23v4.01h-3.23zM293.7 118.33h4.23v3.01h-4.23zM293.7 118.33h3.23v4.01h-3.23zM296.93 136.37h4.23v3.01h-4.23zM296.93 136.37h3.23v4.01h-3.23zM296.93 133.36h4.23v3.01h-4.23zM296.93 133.36h3.23v4.01h-3.23zM296.93 112.32h4.23v3.01h-4.23zM296.93 112.32h3.23v4.01h-3.23zM300.16 127.35h4.23v3.01h-4.23zM300.16 127.35h3.23v4.01h-3.23zM300.16 121.34h4.23v3.01h-4.23zM300.16 121.34h3.23v4.01h-3.23zM300.16 118.33h4.23v3.01h-4.23zM300.16 118.33h3.23v4.01h-3.23zM300.16 115.33h4.23v3.01h-4.23zM300.16 115.33h3.23v4.01h-3.23zM300.16 112.32h4.23v3.01h-4.23zM300.16 112.32h3.23v4.01h-3.23zM303.39 130.36h4.23v3.01h-4.23zM303.39 130.36h3.23v4.01h-3.23zM309.84 124.34h4.23v3.01h-4.23zM309.84 124.34h3.23v4.01h-3.23zM313.07 127.35h4.23v3.01h-4.23zM313.07 127.35h3.23v4.01h-3.23zM319.53 112.32h4.23v3.01h-4.23zM319.53 112.32h3.23v4.01h-3.23zM319.53 103.3h3.23v4.01h-3.23zM332.44 88.27h4.23v3.01h-4.23zM332.44 88.27h3.23v4.01h-3.23z"/>
<path fill="#3f4788" d="M106.48 313.72h4.23v3.01h-4.23zM106.48 313.72h3.23v4.01h-3.23zM119.39 298.69h4.23v3.01h-4.23zM119.39 298.69h3.23v4.01h-3.23zM129.08 301.7h4.23v3.01h-4.23zM129.08 301.7h3.23v4.01h-3.23zM135.53 280.66h4.23v3.01h-4.23zM135.53 280.66h3.23v4.01h-3.23zM138.76 289.67h4.23v3.01h-4.23zM138.76 289.67h3.23v4.01h-3.23zM145.22 283.66h4.23v3.01h-4.23zM145.22 283.66h3.23v4.01h-3.23zM187.18 244.58h4.23v3.01h-4.23zM187.18 244.58h3.23v4.01h-3.23zM187.18 217.53h4.23v3.01h-4.23zM187.18 217.53h3.23v4.01h-3.23zM190.41 208.51h4.23v3.01h-4.23zM190.41 208.51h3.23v4.01h-3.23zM203.32 229.55h4.23v3.01h-4.23zM203.32 229.55h3.23v4.01h-3.23zM206.55 193.48h4.23v3.01h-4.23zM206.55 193.48h3.23v4.01h-3.23zM225.92 178.45h4.23v3.01h-4.23zM225.92 178.45h3.23v4.01h-3.23zM225.92 175.45h4.23v3.01h-4.23zM225.92 175.45h3.23v4.01h-3.23zM238.83 163.42h4.23v3.01h-4.23zM238.83 163.42h3.23v4.01h-3.23zM242.06 199.49h4.23v3.01h-4.23zM242.06 199.49h3.23v4.01h-3.23zM242.06 196.49h4.23v3.01h-4.23zM242.06 196.49h3.23v4.01h-3.23zM248.51 190.48h4.23v3.01h-4.23zM248.51 190.48h3.23v4.01h-3.23zM261.42 175.45h4.23v3.01h-4.23zM261.42 175.45h3.23v4.01h-3.23zM264.65 172.44h4.23v3.01h-4.23zM264.65 172.44h3.23v4.01h-3.23zM264.65 169.43h4.23v3.01h-4.23zM264.65 169.43h3.23v4.01h-3.23zM267.88 139.37h4.23v3.01h-4.23zM267.88 139.37h3.23v4.01h-3.23zM274.34 136.37h4.23v3.01h-4.23zM274.34 136.37h3.23v4.01h-3.23zM277.56 154.4h4.23v3.01h-4.23zM277.56 154.4h3.23v4.01h-3.23zM280.79 148.39h4.23v3.01h-4.23zM280.79 148.39h3.23v4.01h-3.23zM284.02 133.36h4.23v3.01h-4.23zM284.02 133.36h3.23v4.01h-3.23zM287.25 142.38h4.23v3.01h-4.23zM287.25 142.38h3.23v4.01h-3.23zM287.25 133.36h4.23v3.01h-4.23zM287.25 133.36h3.23v4.01h-3.23zM290.48 127.35h4.23v3.01h-4.23zM290.48 127.35h3.23v4.01h-3.23zM296.93 124.34h4.23v3.01h-4.23zM296.93 124.34h3.23v4.01h-3.23zM300.16 130.36h4.23v3.01h-4.23zM300.16 130.36h3.23v4.01h-3.23zM303.39 118.33h4.23v3.01h-4.23zM303.39 118.33h3.23v4.01h-3.23zM309.84 118.33h4.23v3.01h-4.23zM309.84 118.33h3.23v4.01h-3.23zM316.3 115.33h4.23v3.01h-4.23zM316.3 115.33h3.23v4.01h-3.23z"/>
<path fill="#39558c" d="M109.71 313.72h4.23v3.01h-4.23zM109.71 313.72h3.23v4.01h-3.23zM129.08 289.67h4.23v3.01h-4.23zM129.08 289.67h3.23v4.01h-3.23zM135.53 292.68h4.23v3.01h-4.23zM135.53 292.68h3.23v4.01h-3.23zM141.99 286.67h4.23v3.01h-4.23zM141.99 286.67h3.23v4.01h-3.23zM167.81 241.58h4.23v3.01h-4.23zM167.81 241.58h3.23v4.01h-3.23zM174.27 235.57h4.23v3.01h-4.23zM174.27 235.57h3.23v4.01h-3.23zM193.64 211.52h4.23v3.01h-4.23zM193.64 211.52h3.23v4.01h-3.23zM209.78 190.48h4.23v3.01h-4.23zM209.78 190.48h3.23v4.01h-3.23zM219.46 184.46h4.23v3.01h-4.23zM219.46 184.46h3.23v4.01h-3.23zM254.97 154.4h4.23v3.01h-4.23zM254.97 154.4h3.23v4.01h-3.23zM258.2 148.39h4.23v3.01h-4.23zM258.2 148.39h3.23v4.01h-3.23zM267.88 163.42h4.23v3.01h-4.23zM267.88 163.42h3.23v4.01h-3.23zM267.88 145.39h4.23v3.01h-4.23zM267.88 145.39h3.23v4.01h-3.23zM284.02 136.37h4.23v3.01h-4.23zM284.02 136.37h3.23v4.01h-3.23zM290.48 133.36h4.23v3.01h-4.23zM290.48 133.36h3.23v4.01h-3.23zM293.7 130.36h4.23v3.01h-4.23zM293.7 130.36h3.23v4.01h-3.23z"/>
<path fill="#33638d" d="M112.94 310.72h4.23v3.01h-4.23zM112.94 310.72h3.23v4.01h-3.23zM129.08 292.68h4.23v3.01h-4.23zM129.08 292.68h3.23v4.01h-3.23zM151.67 274.64h4.23v3.01h-4.23zM151.67 274.64h3.23v4.01h-3.23zM151.67 265.63h4.23v3.01h-4.23zM151.67 265.63h3.23v4.01h-3.23zM154.9 271.64h4.23v3.01h-4.23zM154.9 271.64h3.23v4.01h-3.23zM154.9 262.62h4.23v3.01h-4.23zM154.9 262.62h3.23v4.01h-3.23zM158.13 268.63h4.23v3.01h-4.23zM158.13 268.63h3.23v4.01h-3.23zM161.36 265.63h4.23v3.01h-4.23zM161.36 265.63h3.23v4.01h-3.23zM164.58 262.62h4.23v3.01h-4.23zM164.58 262.62h3.23v4.01h-3.23zM167.81 259.61h4.23v3.01h-4.23zM167.81 259.61h3.23v4.01h-3.23zM193.64 214.52h4.23v3.01h-4.23zM193.64 214.52h3.23v4.01h-3.23zM203.32 199.49h4.23v3.01h-4.23zM203.32 199.49h3.23v4.01h-3.23zM209.78 193.48h4.23v3.01h-4.23zM209.78 193.48h3.23v4.01h-3.23zM213 190.48h4.23v3.01h-4.23zM213 190.48h3.23v4.01h-3.23zM222.69 184.46h4.23v3.01h-4.23zM222.69 184.46h3.23v4.01h-3.23zM229.14 205.51h4.23v3.01h-4.23zM229.14 205.51h3.23v4.01h-3.23zM229.14 178.45h4.23v3.01h-4.23zM229.14 178.45h3.23v4.01h-3.23zM235.6 169.43h4.23v3.01h-4.23zM235.6 169.43h3.23v4.01h-3.23zM248.51 160.42h4.23v3.01h-4.23zM248.51 160.42h3.23v4.01h-3.23zM264.65 151.4h4.23v3.01h-4.23zM264.65 151.4h3.23v4.01h-3.23zM267.88 160.42h4.23v3.01h-4.23zM267.88 160.42h3.23v4.01h-3.23zM267.88 148.39h4.23v3.01h-4.23zM267.88 148.39h3.23v4.01h-3.23zM271.11 154.4h4.23v3.01h-4.23zM271.11 154.4h3.23v4.01h-3.23zM274.34 151.4h4.23v3.01h-4.23zM274.34 151.4h3.23v4.01h-3.23zM277.56 145.39h4.23v3.01h-4.23zM277.56 145.39h3.23v4.01h-3.23zM280.79 142.38h4.23v3.01h-4.23zM280.79 142.38h3.23v4.01h-3.23z"/>
<path fill="#31668e" d="M116.16 307.71h4.23v3.01h-4.23zM116.16 307.71h3.23v4.01h-3.23zM119.39 304.7h4.23v3.01h-4.23zM119.39 304.7h3.23v4.01h-3.23zM158.13 256.61h4.23v3.01h-4.23zM158.13 256.61h3.23v4.01h-3.23zM196.86 232.56h4.23v3.01h-4.23zM196.86 232.56h3.23v4.01h-3.23zM200.09 229.55h4.23v3.01h-4.23zM200.09 229.55h3.23v4.01h-3.23zM200.09 205.51h4.23v3.01h-4.23zM200.09 205.51h3.23v4.01h-3.23zM232.37 202.5h4.23v3.01h-4.23zM232.37 202.5h3.23v4.01h-3.23zM238.83 169.43h4.23v3.01h-4.23zM238.83 169.43h3.23v4.01h-3.23zM248.51 184.46h4.23v3.01h-4.23zM248.51 184.46h3.23v4.01h-3.23zM248.51 163.42h4.23v3.01h-4.23zM248.51 163.42h3.23v4.01h-3.23zM258.2 172.44h4.23v3.01h-4.23zM258.2 172.44h3.23v4.01h-3.23zM261.42 166.43h4.23v3.01h-4.23zM261.42 166.43h3.23v4.01h-3.23zM264.65 163.42h4.23v3.01h-4.23zM264.65 163.42h3.23v4.01h-3.23zM267.88 151.4h4.23v3.01h-4.23zM267.88 151.4h3.23v4.01h-3.23zM274.34 145.39h4.23v3.01h-4.23zM274.34 145.39h3.23v4.01h-3.23z"/>
<path fill="#424086" d="M116.16 304.7h4.23v3.01h-4.23zM116.16 304.7h3.23v4.01h-3.23zM116.16 301.7h4.23v3.01h-4.23zM116.16 301.7h3.23v4.01h-3.23zM122.62 295.69h4.23v3.01h-4.23zM122.62 295.69h3.23v4.01h-3.23zM129.08 298.69h4.23v3.01h-4.23zM129.08 298.69h3.23v4.01h-3.23zM132.3 298.69h4.23v3.01h-4.23zM132.3 298.69h3.23v4.01h-3.23zM135.53 295.69h4.23v3.01h-4.23zM135.53 295.69h3.23v4.01h-3.23zM138.76 277.65h4.23v3.01h-4.23zM138.76 277.65h3.23v4.01h-3.23zM141.99 289.67h4.23v3.01h-4.23zM141.99 289.67h3.23v4.01h-3.23zM148.44 265.63h4.23v3.01h-4.23zM148.44 265.63h3.23v4.01h-3.23zM158.13 250.6h4.23v3.01h-4.23zM158.13 250.6h3.23v4.01h-3.23zM158.13 247.59h4.23v3.01h-4.23zM158.13 247.59h3.23v4.01h-3.23zM171.04 235.57h4.23v3.01h-4.23zM171.04 235.57h3.23v4.01h-3.23zM177.5 226.55h4.23v3.01h-4.23zM177.5 226.55h3.23v4.01h-3.23zM180.72 253.6h4.23v3.01h-4.23zM180.72 253.6h3.23v4.01h-3.23zM183.95 247.59h4.23v3.01h-4.23zM183.95 247.59h3.23v4.01h-3.23zM183.95 220.54h4.23v3.01h-4.23zM183.95 220.54h3.23v4.01h-3.23zM206.55 229.55h4.23v3.01h-4.23zM209.78 187.47h4.23v3.01h-4.23zM209.78 187.47h3.23v4.01h-3.23zM216.23 220.54h4.23v3.01h-4.23zM216.23 220.54h3.23v4.01h-3.23zM216.23 184.46h4.23v3.01h-4.23zM216.23 184.46h3.23v4.01h-3.23zM219.46 217.53h4.23v3.01h-4.23zM219.46 217.53h3.23v4.01h-3.23zM222.69 217.53h4.23v3.01h-4.23zM222.69 217.53h3.23v4.01h-3.23zM222.69 181.46h4.23v3.01h-4.23zM222.69 181.46h3.23v4.01h-3.23zM225.92 214.52h4.23v3.01h-4.23zM225.92 214.52h3.23v4.01h-3.23zM232.37 169.43h4.23v3.01h-4.23zM232.37 169.43h3.23v4.01h-3.23zM235.6 163.42h4.23v3.01h-4.23zM235.6 163.42h3.23v4.01h-3.23zM242.06 157.41h4.23v3.01h-4.23zM242.06 157.41h3.23v4.01h-3.23zM248.51 193.48h3.23v4.01h-3.23zM254.97 148.39h4.23v3.01h-4.23zM254.97 148.39h3.23v4.01h-3.23zM254.97 145.39h4.23v3.01h-4.23zM254.97 145.39h3.23v4.01h-3.23zM261.42 145.39h4.23v3.01h-4.23zM261.42 145.39h3.23v4.01h-3.23zM264.65 139.37h4.23v3.01h-4.23zM264.65 139.37h3.23v4.01h-3.23zM264.65 136.37h4.23v3.01h-4.23zM264.65 136.37h3.23v4.01h-3.23zM267.88 127.35h4.23v3.01h-4.23zM267.88 127.35h3.23v4.01h-3.23zM271.11 136.37h4.23v3.01h-4.23zM271.11 136.37h3.23v4.01h-3.23zM274.34 133.36h4.23v3.01h-4.23zM274.34 133.36h3.23v4.01h-3.23zM277.56 157.41h4.23v3.01h-4.23zM277.56 157.41h3.23v4.01h-3.23zM277.56 136.37h4.23v3.01h-4.23zM277.56 136.37h3.23v4.01h-3.23zM280.79 151.4h4.23v3.01h-4.23zM280.79 151.4h3.23v4.01h-3.23zM280.79 127.35h4.23v3.01h-4.23zM280.79 127.35h3.23v4.01h-3.23zM284.02 151.4h4.23v3.01h-4.23zM284.02 151.4h3.23v4.01h-3.23zM284.02 118.33h4.23v3.01h-4.23zM284.02 118.33h3.23v4.01h-3.23zM287.25 121.34h4.23v3.01h-4.23zM287.25 121.34h3.23v4.01h-3.23zM290.48 139.37h4.23v3.01h-4.23zM290.48 139.37h3.23v4.01h-3.23zM293.7 124.34h4.23v3.01h-4.23zM293.7 124.34h3.23v4.01h-3.23zM293.7 121.34h4.23v3.01h-4.23zM293.7 121.34h3.23v4.01h-3.23zM296.93 130.36h4.23v3.01h-4.23zM296.93 130.36h3.23v4.01h-3.23zM296.93 121.34h4.23v3.01h-4.23zM296.93 121.34h3.23v4.01h-3.23zM296.93 118.33h4.23v3.01h-4.23zM296.93 118.33h3.23v4.01h-3.23zM296.93 115.33h4.23v3.01h-4.23zM296.93 115.33h3.23v4.01h-3.23zM303.39 115.33h4.23v3.01h-4.23zM303.39 115.33h3.23v4.01h-3.23zM306.62 118.33h4.23v3.01h-4.23zM306.62 118.33h3.23v4.01h-3.23zM309.84 115.33h4.23v3.01h-4.23zM309.84 115.33h3.23v4.01h-3.23zM316.3 103.3h4.23v3.01h-4.23zM316.3 103.3h3.23v4.01h-3.23z"/>
<path fill="#355f8d" d="M122.62 301.7h4.23v3.01h-4.23zM122.62 301.7h3.23v4.01h-3.23zM122.62 298.69h4.23v3.01h-4.23zM122.62 298.69h3.23v4.01h-3.23zM125.85 295.69h4.23v3.01h-4.23zM125.85 295.69h3.23v4.01h-3.23zM135.53 283.66h4.23v3.01h-4.23zM135.53 283.66h3.23v4.01h-3.23zM148.44 277.65h4.23v3.01h-4.23zM148.44 277.65h3.23v4.01h-3.23zM164.58 247.59h4.23v3.01h-4.23zM164.58 247.59h3.23v4.01h-3.23zM167.81 244.58h4.23v3.01h-4.23zM167.81 244.58h3.23v4.01h-3.23zM171.04 241.58h4.23v3.01h-4.23zM171.04 241.58h3.23v4.01h-3.23zM174.27 238.57h4.23v3.01h-4.23zM174.27 238.57h3.23v4.01h-3.23zM190.41 217.53h4.23v3.01h-4.23zM190.41 217.53h3.23v4.01h-3.23zM206.55 196.49h4.23v3.01h-4.23zM206.55 196.49h3.23v4.01h-3.23zM216.23 217.53h4.23v3.01h-4.23zM216.23 217.53h3.23v4.01h-3.23zM222.69 211.52h4.23v3.01h-4.23zM222.69 211.52h3.23v4.01h-3.23zM225.92 181.46h4.23v3.01h-4.23zM225.92 181.46h3.23v4.01h-3.23zM238.83 196.49h4.23v3.01h-4.23zM238.83 196.49h3.23v4.01h-3.23zM254.97 157.41h4.23v3.01h-4.23zM254.97 157.41h3.23v4.01h-3.23zM258.2 175.45h4.23v3.01h-4.23zM258.2 175.45h3.23v4.01h-3.23zM258.2 154.4h4.23v3.01h-4.23zM258.2 154.4h3.23v4.01h-3.23zM277.56 142.38h4.23v3.01h-4.23zM277.56 142.38h3.23v4.01h-3.23z"/>
<path fill="#30698e" d="M125.85 298.69h4.23v3.01h-4.23zM125.85 298.69h3.23v4.01h-3.23zM129.08 295.69h4.23v3.01h-4.23zM129.08 295.69h3.23v4.01h-3.23zM132.3 292.68h4.23v3.01h-4.23zM132.3 292.68h3.23v4.01h-3.23zM132.3 289.67h4.23v3.01h-4.23zM132.3 289.67h3.23v4.01h-3.23zM135.53 289.67h4.23v3.01h-4.23zM135.53 289.67h3.23v4.01h-3.23zM138.76 286.67h4.23v3.01h-4.23zM138.76 286.67h3.23v4.01h-3.23zM141.99 277.65h4.23v3.01h-4.23zM141.99 277.65h3.23v4.01h-3.23zM145.22 274.64h4.23v3.01h-4.23zM145.22 274.64h3.23v4.01h-3.23zM161.36 253.6h4.23v3.01h-4.23zM161.36 253.6h3.23v4.01h-3.23zM177.5 250.6h4.23v3.01h-4.23zM177.5 250.6h3.23v4.01h-3.23zM177.5 235.57h4.23v3.01h-4.23zM177.5 235.57h3.23v4.01h-3.23zM180.72 247.59h4.23v3.01h-4.23zM180.72 247.59h3.23v4.01h-3.23zM183.95 226.55h4.23v3.01h-4.23zM183.95 226.55h3.23v4.01h-3.23zM187.18 223.54h4.23v3.01h-4.23zM187.18 223.54h3.23v4.01h-3.23zM193.64 235.57h4.23v3.01h-4.23zM193.64 235.57h3.23v4.01h-3.23zM216.23 190.48h4.23v3.01h-4.23zM216.23 190.48h3.23v4.01h-3.23zM242.06 190.48h4.23v3.01h-4.23zM242.06 190.48h3.23v4.01h-3.23zM245.28 187.47h4.23v3.01h-4.23zM245.28 187.47h3.23v4.01h-3.23zM251.74 160.42h4.23v3.01h-4.23zM251.74 160.42h3.23v4.01h-3.23zM254.97 160.42h4.23v3.01h-4.23zM254.97 160.42h3.23v4.01h-3.23zM258.2 157.41h4.23v3.01h-4.23zM258.2 157.41h3.23v4.01h-3.23zM261.42 154.4h4.23v3.01h-4.23zM261.42 154.4h3.23v4.01h-3.23zM271.11 148.39h4.23v3.01h-4.23zM271.11 148.39h3.23v4.01h-3.23zM274.34 148.39h4.23v3.01h-4.23zM274.34 148.39h3.23v4.01h-3.23z"/>
<path fill="#365c8d" d="M132.3 286.67h4.23v3.01h-4.23zM132.3 286.67h3.23v4.01h-3.23zM138.76 280.66h4.23v3.01h-4.23zM138.76 280.66h3.23v4.01h-3.23zM158.13 253.6h4.23v3.01h-4.23zM158.13 253.6h3.23v4.01h-3.23zM180.72 229.55h4.23v3.01h-4.23zM180.72 229.55h3.23v4.01h-3.23zM216.23 187.47h4.23v3.01h-4.23zM216.23 187.47h3.23v4.01h-3.23zM219.46 214.52h4.23v3.01h-4.23zM219.46 214.52h3.23v4.01h-3.23zM225.92 208.51h4.23v3.01h-4.23zM225.92 208.51h3.23v4.01h-3.23zM242.06 166.43h4.23v3.01h-4.23zM242.06 166.43h3.23v4.01h-3.23zM245.28 190.48h4.23v3.01h-4.23zM245.28 190.48h3.23v4.01h-3.23zM245.28 163.42h4.23v3.01h-4.23zM245.28 163.42h3.23v4.01h-3.23zM251.74 181.46h4.23v3.01h-4.23zM251.74 181.46h3.23v4.01h-3.23zM261.42 169.43h4.23v3.01h-4.23zM261.42 169.43h3.23v4.01h-3.23zM264.65 148.39h4.23v3.01h-4.23zM264.65 148.39h3.23v4.01h-3.23zM271.11 157.41h4.23v3.01h-4.23zM271.11 157.41h3.23v4.01h-3.23zM271.11 145.39h4.23v3.01h-4.23zM271.11 145.39h3.23v4.01h-3.23zM274.34 154.4h4.23v3.01h-4.23zM274.34 154.4h3.23v4.01h-3.23zM280.79 145.39h4.23v3.01h-4.23zM280.79 145.39h3.23v4.01h-3.23zM280.79 139.37h4.23v3.01h-4.23zM280.79 139.37h3.23v4.01h-3.23zM287.25 136.37h4.23v3.01h-4.23zM287.25 136.37h3.23v4.01h-3.23z"/>
<path fill="#2e6f8e" d="M135.53 286.67h4.23v3.01h-4.23zM135.53 286.67h3.23v4.01h-3.23zM138.76 283.66h4.23v3.01h-4.23zM138.76 283.66h3.23v4.01h-3.23zM148.44 271.64h4.23v3.01h-4.23zM148.44 271.64h3.23v4.01h-3.23zM164.58 250.6h4.23v3.01h-4.23zM164.58 250.6h3.23v4.01h-3.23zM167.81 247.59h4.23v3.01h-4.23zM167.81 247.59h3.23v4.01h-3.23zM183.95 244.58h4.23v3.01h-4.23zM183.95 244.58h3.23v4.01h-3.23zM190.41 220.54h4.23v3.01h-4.23zM190.41 220.54h3.23v4.01h-3.23zM213 193.48h4.23v3.01h-4.23zM213 193.48h3.23v4.01h-3.23zM229.14 202.5h4.23v3.01h-4.23zM229.14 202.5h3.23v4.01h-3.23zM235.6 196.49h4.23v3.01h-4.23zM235.6 196.49h3.23v4.01h-3.23zM238.83 193.48h4.23v3.01h-4.23zM238.83 193.48h3.23v4.01h-3.23zM238.83 172.44h4.23v3.01h-4.23zM238.83 172.44h3.23v4.01h-3.23zM242.06 169.43h4.23v3.01h-4.23zM242.06 169.43h3.23v4.01h-3.23zM245.28 166.43h4.23v3.01h-4.23zM245.28 166.43h3.23v4.01h-3.23zM251.74 178.45h4.23v3.01h-4.23zM251.74 178.45h3.23v4.01h-3.23zM251.74 163.42h4.23v3.01h-4.23zM251.74 163.42h3.23v4.01h-3.23zM258.2 169.43h4.23v3.01h-4.23zM258.2 169.43h3.23v4.01h-3.23zM261.42 157.41h4.23v3.01h-4.23zM261.42 157.41h3.23v4.01h-3.23zM264.65 160.42h4.23v3.01h-4.23zM264.65 160.42h3.23v4.01h-3.23z"/>
<path fill="#2f6c8e" d="M141.99 283.66h4.23v3.01h-4.23zM141.99 283.66h3.23v4.01h-3.23zM145.22 280.66h4.23v3.01h-4.23zM145.22 280.66h3.23v4.01h-3.23zM171.04 256.61h4.23v3.01h-4.23zM171.04 256.61h3.23v4.01h-3.23zM174.27 253.6h4.23v3.01h-4.23zM174.27 253.6h3.23v4.01h-3.23zM187.18 241.58h4.23v3.01h-4.23zM187.18 241.58h3.23v4.01h-3.23zM190.41 238.57h4.23v3.01h-4.23zM190.41 238.57h3.23v4.01h-3.23zM196.86 211.52h4.23v3.01h-4.23zM196.86 211.52h3.23v4.01h-3.23zM203.32 226.55h4.23v3.01h-4.23zM203.32 226.55h3.23v4.01h-3.23zM206.55 223.54h4.23v3.01h-4.23zM206.55 223.54h3.23v4.01h-3.23zM219.46 187.47h4.23v3.01h-4.23zM219.46 187.47h3.23v4.01h-3.23zM235.6 172.44h4.23v3.01h-4.23zM235.6 172.44h3.23v4.01h-3.23zM254.97 175.45h4.23v3.01h-4.23zM254.97 175.45h3.23v4.01h-3.23zM264.65 154.4h4.23v3.01h-4.23zM264.65 154.4h3.23v4.01h-3.23zM267.88 157.41h4.23v3.01h-4.23zM267.88 157.41h3.23v4.01h-3.23zM271.11 151.4h4.23v3.01h-4.23zM271.11 151.4h3.23v4.01h-3.23z"/>
<path fill="#2b758e" d="M141.99 280.66h4.23v3.01h-4.23zM141.99 280.66h3.23v4.01h-3.23zM158.13 259.61h4.23v3.01h-4.23zM158.13 259.61h3.23v4.01h-3.23zM200.09 208.51h4.23v3.01h-4.23zM200.09 208.51h3.23v4.01h-3.23zM216.23 193.48h4.23v3.01h-4.23zM216.23 193.48h3.23v4.01h-3.23zM222.69 208.51h4.23v3.01h-4.23zM222.69 208.51h3.23v4.01h-3.23zM225.92 205.51h4.23v3.01h-4.23zM225.92 205.51h3.23v4.01h-3.23zM232.37 199.49h4.23v3.01h-4.23zM232.37 199.49h3.23v4.01h-3.23zM235.6 175.45h4.23v3.01h-4.23zM235.6 175.45h3.23v4.01h-3.23zM245.28 184.46h4.23v3.01h-4.23zM245.28 184.46h3.23v4.01h-3.23z"/>
<path fill="#297b8e" d="M145.22 277.65h4.23v3.01h-4.23zM145.22 277.65h3.23v4.01h-3.23zM154.9 268.63h4.23v3.01h-4.23zM154.9 268.63h3.23v4.01h-3.23zM161.36 256.61h4.23v3.01h-4.23zM161.36 256.61h3.23v4.01h-3.23zM164.58 253.6h4.23v3.01h-4.23zM164.58 253.6h3.23v4.01h-3.23zM177.5 238.57h4.23v3.01h-4.23zM177.5 238.57h3.23v4.01h-3.23zM187.18 226.55h4.23v3.01h-4.23zM187.18 226.55h3.23v4.01h-3.23zM238.83 175.45h4.23v3.01h-4.23zM238.83 175.45h3.23v4.01h-3.23zM242.06 187.47h4.23v3.01h-4.23zM242.06 187.47h3.23v4.01h-3.23zM242.06 172.44h4.23v3.01h-4.23zM242.06 172.44h3.23v4.01h-3.23zM245.28 169.43h4.23v3.01h-4.23zM245.28 169.43h3.23v4.01h-3.23zM251.74 175.45h4.23v3.01h-4.23zM251.74 175.45h3.23v4.01h-3.23zM254.97 163.42h4.23v3.01h-4.23zM254.97 163.42h3.23v4.01h-3.23zM261.42 160.42h4.23v3.01h-4.23zM261.42 160.42h3.23v4.01h-3.23z"/>
<path fill="#38598c" d="M145.22 271.64h4.23v3.01h-4.23zM145.22 271.64h3.23v4.01h-3.23zM148.44 268.63h4.23v3.01h-4.23zM148.44 268.63h3.23v4.01h-3.23zM161.36 250.6h4.23v3.01h-4.23zM161.36 250.6h3.23v4.01h-3.23zM171.04 238.57h4.23v3.01h-4.23zM171.04 238.57h3.23v4.01h-3.23zM187.18 220.54h4.23v3.01h-4.23zM187.18 220.54h3.23v4.01h-3.23zM232.37 205.51h4.23v3.01h-4.23zM232.37 205.51h3.23v4.01h-3.23zM232.37 175.45h4.23v3.01h-4.23zM232.37 175.45h3.23v4.01h-3.23zM235.6 199.49h4.23v3.01h-4.23zM235.6 199.49h3.23v4.01h-3.23zM242.06 193.48h4.23v3.01h-4.23zM242.06 193.48h3.23v4.01h-3.23zM242.06 163.42h4.23v3.01h-4.23zM242.06 163.42h3.23v4.01h-3.23zM251.74 157.41h4.23v3.01h-4.23zM251.74 157.41h3.23v4.01h-3.23zM261.42 172.44h4.23v3.01h-4.23zM261.42 172.44h3.23v4.01h-3.23zM261.42 151.4h4.23v3.01h-4.23zM261.42 151.4h3.23v4.01h-3.23zM264.65 166.43h4.23v3.01h-4.23zM264.65 166.43h3.23v4.01h-3.23zM271.11 142.38h4.23v3.01h-4.23zM271.11 142.38h3.23v4.01h-3.23zM274.34 142.38h4.23v3.01h-4.23zM274.34 142.38h3.23v4.01h-3.23zM277.56 151.4h4.23v3.01h-4.23zM277.56 151.4h3.23v4.01h-3.23zM277.56 148.39h4.23v3.01h-4.23zM277.56 148.39h3.23v4.01h-3.23zM284.02 139.37h4.23v3.01h-4.23zM284.02 139.37h3.23v4.01h-3.23z"/>
<path fill="#26828e" d="M148.44 274.64h4.23v3.01h-4.23zM148.44 274.64h3.23v4.01h-3.23zM164.58 259.61h4.23v3.01h-4.23zM164.58 259.61h3.23v4.01h-3.23zM174.27 250.6h4.23v3.01h-4.23zM174.27 250.6h3.23v4.01h-3.23zM177.5 247.59h4.23v3.01h-4.23zM177.5 247.59h3.23v4.01h-3.23zM190.41 235.57h4.23v3.01h-4.23zM190.41 235.57h3.23v4.01h-3.23zM196.86 229.55h4.23v3.01h-4.23zM196.86 229.55h3.23v4.01h-3.23zM203.32 205.51h4.23v3.01h-4.23zM203.32 205.51h3.23v4.01h-3.23zM206.55 202.5h4.23v3.01h-4.23zM206.55 202.5h3.23v4.01h-3.23zM229.14 184.46h4.23v3.01h-4.23zM229.14 184.46h3.23v4.01h-3.23zM235.6 193.48h4.23v3.01h-4.23zM235.6 193.48h3.23v4.01h-3.23zM235.6 178.45h4.23v3.01h-4.23zM235.6 178.45h3.23v4.01h-3.23zM248.51 169.43h4.23v3.01h-4.23zM248.51 169.43h3.23v4.01h-3.23zM254.97 169.43h4.23v3.01h-4.23zM254.97 169.43h3.23v4.01h-3.23zM258.2 163.42h4.23v3.01h-4.23zM258.2 163.42h3.23v4.01h-3.23z"/>
<path fill="#277e8e" d="M151.67 271.64h4.23v3.01h-4.23zM151.67 271.64h3.23v4.01h-3.23zM158.13 265.63h4.23v3.01h-4.23zM158.13 265.63h3.23v4.01h-3.23zM158.13 262.62h4.23v3.01h-4.23zM158.13 262.62h3.23v4.01h-3.23zM161.36 262.62h4.23v3.01h-4.23zM161.36 262.62h3.23v4.01h-3.23zM167.81 256.61h4.23v3.01h-4.23zM167.81 256.61h3.23v4.01h-3.23zM167.81 250.6h4.23v3.01h-4.23zM167.81 250.6h3.23v4.01h-3.23zM171.04 253.6h4.23v3.01h-4.23zM171.04 253.6h3.23v4.01h-3.23zM180.72 235.57h4.23v3.01h-4.23zM180.72 235.57h3.23v4.01h-3.23zM190.41 223.54h4.23v3.01h-4.23zM190.41 223.54h3.23v4.01h-3.23zM196.86 214.52h4.23v3.01h-4.23zM196.86 214.52h3.23v4.01h-3.23zM209.78 199.49h4.23v3.01h-4.23zM209.78 199.49h3.23v4.01h-3.23zM232.37 181.46h4.23v3.01h-4.23zM232.37 181.46h3.23v4.01h-3.23zM248.51 178.45h4.23v3.01h-4.23zM248.51 178.45h3.23v4.01h-3.23z"/>
<path fill="#2c728e" d="M151.67 268.63h4.23v3.01h-4.23zM151.67 268.63h3.23v4.01h-3.23zM171.04 244.58h4.23v3.01h-4.23zM171.04 244.58h3.23v4.01h-3.23zM180.72 232.56h4.23v3.01h-4.23zM180.72 232.56h3.23v4.01h-3.23zM203.32 202.5h4.23v3.01h-4.23zM203.32 202.5h3.23v4.01h-3.23zM206.55 199.49h4.23v3.01h-4.23zM206.55 199.49h3.23v4.01h-3.23zM209.78 220.54h4.23v3.01h-4.23zM209.78 220.54h3.23v4.01h-3.23zM209.78 196.49h4.23v3.01h-4.23zM209.78 196.49h3.23v4.01h-3.23zM213 217.53h4.23v3.01h-4.23zM213 217.53h3.23v4.01h-3.23zM219.46 211.52h4.23v3.01h-4.23zM219.46 211.52h3.23v4.01h-3.23zM222.69 187.47h4.23v3.01h-4.23zM222.69 187.47h3.23v4.01h-3.23zM225.92 184.46h4.23v3.01h-4.23zM225.92 184.46h3.23v4.01h-3.23zM229.14 181.46h4.23v3.01h-4.23zM229.14 181.46h3.23v4.01h-3.23zM232.37 178.45h4.23v3.01h-4.23zM232.37 178.45h3.23v4.01h-3.23zM248.51 181.46h4.23v3.01h-4.23zM248.51 181.46h3.23v4.01h-3.23zM254.97 172.44h4.23v3.01h-4.23zM254.97 172.44h3.23v4.01h-3.23zM258.2 160.42h4.23v3.01h-4.23zM258.2 160.42h3.23v4.01h-3.23zM264.65 157.41h4.23v3.01h-4.23zM264.65 157.41h3.23v4.01h-3.23zM267.88 154.4h4.23v3.01h-4.23zM267.88 154.4h3.23v4.01h-3.23z"/>
<path fill="#2a788e" d="M154.9 265.63h4.23v3.01h-4.23zM154.9 265.63h3.23v4.01h-3.23zM174.27 241.58h4.23v3.01h-4.23zM174.27 241.58h3.23v4.01h-3.23zM183.95 229.55h4.23v3.01h-4.23zM183.95 229.55h3.23v4.01h-3.23zM193.64 217.53h4.23v3.01h-4.23zM193.64 217.53h3.23v4.01h-3.23zM216.23 214.52h4.23v3.01h-4.23zM216.23 214.52h3.23v4.01h-3.23zM219.46 190.48h4.23v3.01h-4.23zM219.46 190.48h3.23v4.01h-3.23zM238.83 190.48h4.23v3.01h-4.23zM238.83 190.48h3.23v4.01h-3.23zM248.51 166.43h4.23v3.01h-4.23zM248.51 166.43h3.23v4.01h-3.23zM251.74 166.43h4.23v3.01h-4.23zM251.74 166.43h3.23v4.01h-3.23zM258.2 166.43h4.23v3.01h-4.23zM258.2 166.43h3.23v4.01h-3.23zM261.42 163.42h4.23v3.01h-4.23zM261.42 163.42h3.23v4.01h-3.23z"/>
<path fill="#25848e" d="M161.36 259.61h4.23v3.01h-4.23zM161.36 259.61h3.23v4.01h-3.23zM171.04 247.59h4.23v3.01h-4.23zM171.04 247.59h3.23v4.01h-3.23zM180.72 244.58h4.23v3.01h-4.23zM180.72 244.58h3.23v4.01h-3.23zM183.95 241.58h4.23v3.01h-4.23zM183.95 241.58h3.23v4.01h-3.23zM183.95 232.56h4.23v3.01h-4.23zM183.95 232.56h3.23v4.01h-3.23zM187.18 238.57h4.23v3.01h-4.23zM187.18 238.57h3.23v4.01h-3.23zM193.64 232.56h4.23v3.01h-4.23zM193.64 232.56h3.23v4.01h-3.23zM200.09 211.52h4.23v3.01h-4.23zM200.09 211.52h3.23v4.01h-3.23zM213 196.49h4.23v3.01h-4.23zM213 196.49h3.23v4.01h-3.23zM225.92 187.47h4.23v3.01h-4.23zM225.92 187.47h3.23v4.01h-3.23zM232.37 196.49h4.23v3.01h-4.23zM232.37 196.49h3.23v4.01h-3.23zM245.28 181.46h4.23v3.01h-4.23zM245.28 181.46h3.23v4.01h-3.23zM254.97 166.43h4.23v3.01h-4.23zM254.97 166.43h3.23v4.01h-3.23z"/>
<path fill="#24878e" d="M164.58 256.61h4.23v3.01h-4.23zM164.58 256.61h3.23v4.01h-3.23zM174.27 244.58h4.23v3.01h-4.23zM174.27 244.58h3.23v4.01h-3.23zM193.64 220.54h4.23v3.01h-4.23zM193.64 220.54h3.23v4.01h-3.23zM200.09 226.55h4.23v3.01h-4.23zM200.09 226.55h3.23v4.01h-3.23zM203.32 223.54h4.23v3.01h-4.23zM203.32 223.54h3.23v4.01h-3.23zM222.69 205.51h4.23v3.01h-4.23zM222.69 205.51h3.23v4.01h-3.23zM222.69 190.48h4.23v3.01h-4.23zM222.69 190.48h3.23v4.01h-3.23zM225.92 202.5h4.23v3.01h-4.23zM225.92 202.5h3.23v4.01h-3.23zM229.14 199.49h4.23v3.01h-4.23zM229.14 199.49h3.23v4.01h-3.23zM242.06 184.46h4.23v3.01h-4.23zM242.06 184.46h3.23v4.01h-3.23zM242.06 175.45h4.23v3.01h-4.23zM242.06 175.45h3.23v4.01h-3.23zM245.28 172.44h4.23v3.01h-4.23zM245.28 172.44h3.23v4.01h-3.23zM251.74 172.44h4.23v3.01h-4.23zM251.74 172.44h3.23v4.01h-3.23zM251.74 169.43h4.23v3.01h-4.23zM251.74 169.43h3.23v4.01h-3.23z"/>
<path fill="#228d8d" d="M167.81 253.6h4.23v3.01h-4.23zM167.81 253.6h3.23v4.01h-3.23zM177.5 241.58h4.23v3.01h-4.23zM177.5 241.58h3.23v4.01h-3.23zM187.18 229.55h4.23v3.01h-4.23zM187.18 229.55h3.23v4.01h-3.23zM219.46 208.51h4.23v3.01h-4.23zM219.46 208.51h3.23v4.01h-3.23zM238.83 187.47h4.23v3.01h-4.23zM238.83 187.47h3.23v4.01h-3.23zM238.83 178.45h4.23v3.01h-4.23zM238.83 178.45h3.23v4.01h-3.23zM248.51 175.45h4.23v3.01h-4.23zM248.51 175.45h3.23v4.01h-3.23z"/>
<path fill="#20938c" d="M171.04 250.6h4.23v3.01h-4.23zM171.04 250.6h3.23v4.01h-3.23zM190.41 226.55h4.23v3.01h-4.23zM190.41 226.55h3.23v4.01h-3.23zM206.55 205.51h4.23v3.01h-4.23zM206.55 205.51h3.23v4.01h-3.23zM232.37 184.46h4.23v3.01h-4.23zM232.37 184.46h3.23v4.01h-3.23zM245.28 175.45h4.23v3.01h-4.23zM245.28 175.45h3.23v4.01h-3.23z"/>
<path fill="#1f998a" d="M174.27 247.59h4.23v3.01h-4.23zM174.27 247.59h3.23v4.01h-3.23zM183.95 235.57h4.23v3.01h-4.23zM183.95 235.57h3.23v4.01h-3.23zM219.46 196.49h4.23v3.01h-4.23zM219.46 196.49h3.23v4.01h-3.23zM242.06 181.46h4.23v3.01h-4.23zM242.06 181.46h3.23v4.01h-3.23zM242.06 178.45h4.23v3.01h-4.23zM242.06 178.45h3.23v4.01h-3.23z"/>
<path fill="#1e9c89" d="M177.5 244.58h4.23v3.01h-4.23zM177.5 244.58h3.23v4.01h-3.23zM193.64 223.54h4.23v3.01h-4.23zM193.64 223.54h3.23v4.01h-3.23zM216.23 199.49h4.23v3.01h-4.23zM216.23 199.49h3.23v4.01h-3.23zM229.14 196.49h4.23v3.01h-4.23zM229.14 196.49h3.23v4.01h-3.23zM238.83 181.46h4.23v3.01h-4.23zM238.83 181.46h3.23v4.01h-3.23z"/>
<path fill="#1fa088" d="M180.72 241.58h4.23v3.01h-4.23zM180.72 241.58h3.23v4.01h-3.23zM183.95 238.57h4.23v3.01h-4.23zM183.95 238.57h3.23v4.01h-3.23zM187.18 232.56h4.23v3.01h-4.23zM187.18 232.56h3.23v4.01h-3.23zM203.32 211.52h4.23v3.01h-4.23zM203.32 211.52h3.23v4.01h-3.23zM225.92 199.49h4.23v3.01h-4.23zM225.92 199.49h3.23v4.01h-3.23zM238.83 184.46h4.23v3.01h-4.23zM238.83 184.46h3.23v4.01h-3.23z"/>
<path fill="#1f968b" d="M180.72 238.57h4.23v3.01h-4.23zM180.72 238.57h3.23v4.01h-3.23zM200.09 214.52h4.23v3.01h-4.23zM200.09 214.52h3.23v4.01h-3.23zM222.69 193.48h4.23v3.01h-4.23zM222.69 193.48h3.23v4.01h-3.23zM225.92 190.48h4.23v3.01h-4.23zM225.92 190.48h3.23v4.01h-3.23zM232.37 193.48h4.23v3.01h-4.23zM232.37 193.48h3.23v4.01h-3.23z"/>
<path fill="#1fa287" d="M187.18 235.57h4.23v3.01h-4.23zM187.18 235.57h3.23v4.01h-3.23zM190.41 232.56h4.23v3.01h-4.23zM190.41 232.56h3.23v4.01h-3.23zM196.86 220.54h4.23v3.01h-4.23zM196.86 220.54h3.23v4.01h-3.23zM206.55 208.51h4.23v3.01h-4.23zM206.55 208.51h3.23v4.01h-3.23zM209.78 205.51h4.23v3.01h-4.23zM209.78 205.51h3.23v4.01h-3.23zM213 202.5h4.23v3.01h-4.23zM213 202.5h3.23v4.01h-3.23zM222.69 202.5h4.23v3.01h-4.23zM222.69 202.5h3.23v4.01h-3.23zM235.6 184.46h4.23v3.01h-4.23zM235.6 184.46h3.23v4.01h-3.23z"/>
<path fill="#22a884" d="M190.41 229.55h4.23v3.01h-4.23zM190.41 229.55h3.23v4.01h-3.23zM193.64 229.55h4.23v3.01h-4.23zM193.64 229.55h3.23v4.01h-3.23zM196.86 226.55h4.23v3.01h-4.23zM196.86 226.55h3.23v4.01h-3.23zM235.6 187.47h4.23v3.01h-4.23zM235.6 187.47h3.23v4.01h-3.23z"/>
<path fill="#2cb17e" d="M193.64 226.55h4.23v3.01h-4.23zM193.64 226.55h3.23v4.01h-3.23zM213 211.52h4.23v3.01h-4.23zM213 211.52h3.23v4.01h-3.23z"/>
<path fill="#3fbc73" d="M196.86 223.54h4.23v3.01h-4.23zM196.86 223.54h3.23v4.01h-3.23zM203.32 214.52h4.23v3.01h-4.23zM203.32 214.52h3.23v4.01h-3.23zM216.23 202.5h4.23v3.01h-4.23zM216.23 202.5h3.23v4.01h-3.23zM225.92 196.49h4.23v3.01h-4.23zM225.92 196.49h3.23v4.01h-3.23z"/>
<path fill="#21918c" d="M196.86 217.53h4.23v3.01h-4.23zM196.86 217.53h3.23v4.01h-3.23zM203.32 208.51h4.23v3.01h-4.23zM203.32 208.51h3.23v4.01h-3.23zM209.78 202.5h4.23v3.01h-4.23zM209.78 202.5h3.23v4.01h-3.23zM213 199.49h4.23v3.01h-4.23zM213 199.49h3.23v4.01h-3.23zM229.14 187.47h4.23v3.01h-4.23zM229.14 187.47h3.23v4.01h-3.23zM235.6 190.48h4.23v3.01h-4.23zM235.6 190.48h3.23v4.01h-3.23zM235.6 181.46h4.23v3.01h-4.23zM235.6 181.46h3.23v4.01h-3.23zM245.28 178.45h4.23v3.01h-4.23zM245.28 178.45h3.23v4.01h-3.23zM248.51 172.44h4.23v3.01h-4.23zM248.51 172.44h3.23v4.01h-3.23z"/>
<path fill="#28ae80" d="M200.09 223.54h4.23v3.01h-4.23zM200.09 223.54h3.23v4.01h-3.23zM200.09 217.53h4.23v3.01h-4.23zM200.09 217.53h3.23v4.01h-3.23zM225.92 193.48h4.23v3.01h-4.23zM225.92 193.48h3.23v4.01h-3.23zM232.37 190.48h4.23v3.01h-4.23zM232.37 190.48h3.23v4.01h-3.23z"/>
<path fill="#6ccd5a" d="M200.09 220.54h4.23v3.01h-4.23zM200.09 220.54h3.23v4.01h-3.23zM219.46 202.5h4.23v3.01h-4.23zM219.46 202.5h3.23v4.01h-3.23z"/>
<path fill="#2fb47c" d="M203.32 220.54h4.23v3.01h-4.23zM203.32 220.54h3.23v4.01h-3.23zM222.69 196.49h4.23v3.01h-4.23zM222.69 196.49h3.23v4.01h-3.23z"/>
<path fill="#addc30" d="M203.32 217.53h4.23v3.01h-4.23zM203.32 217.53h3.23v4.01h-3.23zM213 208.51h4.23v3.01h-4.23zM213 208.51h3.23v4.01h-3.23z"/>
<path fill="#238a8d" d="M206.55 220.54h4.23v3.01h-4.23zM206.55 220.54h3.23v4.01h-3.23zM209.78 217.53h4.23v3.01h-4.23zM209.78 217.53h3.23v4.01h-3.23zM213 214.52h4.23v3.01h-4.23zM213 214.52h3.23v4.01h-3.23zM216.23 211.52h4.23v3.01h-4.23zM216.23 211.52h3.23v4.01h-3.23zM216.23 196.49h4.23v3.01h-4.23zM216.23 196.49h3.23v4.01h-3.23zM219.46 193.48h4.23v3.01h-4.23zM219.46 193.48h3.23v4.01h-3.23z"/>
<path fill="#34b679" d="M206.55 217.53h4.23v3.01h-4.23zM206.55 217.53h3.23v4.01h-3.23zM209.78 214.52h4.23v3.01h-4.23zM209.78 214.52h3.23v4.01h-3.23zM219.46 199.49h4.23v3.01h-4.23zM219.46 199.49h3.23v4.01h-3.23zM229.14 193.48h4.23v3.01h-4.23zM229.14 193.48h3.23v4.01h-3.23z"/>
<path fill="#f6e620" d="M206.55 214.52h4.23v3.01h-4.23zM206.55 214.52h3.23v4.01h-3.23z"/>
<path fill="#5ec962" d="M206.55 211.52h4.23v3.01h-4.23zM206.55 211.52h3.23v4.01h-3.23z"/>
<path fill="#e7e419" d="M209.78 211.52h4.23v3.01h-4.23zM209.78 211.52h3.23v4.01h-3.23z"/>
<path fill="#50c46a" d="M209.78 208.51h4.23v3.01h-4.23zM209.78 208.51h3.23v4.01h-3.23zM222.69 199.49h4.23v3.01h-4.23zM222.69 199.49h3.23v4.01h-3.23z"/>
<path fill="#44bf70" d="M213 205.51h4.23v3.01h-4.23zM213 205.51h3.23v4.01h-3.23z"/>
<path fill="#25ab82" d="M216.23 208.51h4.23v3.01h-4.23zM216.23 208.51h3.23v4.01h-3.23zM229.14 190.48h4.23v3.01h-4.23zM229.14 190.48h3.23v4.01h-3.23z"/>
<path fill="#8bd646" d="M216.23 205.51h4.23v3.01h-4.23zM216.23 205.51h3.23v4.01h-3.23z"/>
<path fill="#21a585" d="M219.46 205.51h4.23v3.01h-4.23zM219.46 205.51h3.23v4.01h-3.23zM232.37 187.47h4.23v3.01h-4.23zM232.37 187.47h3.23v4.01h-3.23z"/>
</g>
<g id="cells">
<path fill="#440154" d="M74.2 349.79h3.23v3.01h-3.23zM77.43 343.78h3.23v3.01h-3.23zM83.88 340.78h3.23v3.01h-3.23zM83.88 337.77h3.23v3.01h-3.23zM90.34 331.76h3.23v3.01h-3.23zM93.57 340.78h3.23v3.01h-3.23zM96.8 319.73h3.23v3.01h-3.23zM103.25 313.72h3.23v3.01h-3.23zM109.71 307.71h3.23v3.01h-3.23zM119.39 313.72h3.23v3.01h-3.23zM122.62 286.67h3.23v3.01h-3.23zM125.85 286.67h3.23v3.01h-3.23zM129.08 304.7h3.23v3.01h-3.23zM129.08 277.65h3.23v3.01h-3.23zM132.3 274.64h3.23v3.01h-3.23zM132.3 271.64h3.23v3.01h-3.23zM132.3 268.63h3.23v3.01h-3.23zM132.3 265.63h3.23v3.01h-3.23zM132.3 262.62h3.23v3.01h-3.23zM135.53 301.7h3.23v3.01h-3.23zM135.53 298.69h3.23v3.01h-3.23zM135.53 265.63h3.23v3.01h-3.23zM138.76 268.63h3.23v3.01h-3.23zM138.76 265.63h3.23v3.01h-3.23zM138.76 262.62h3.23v3.01h-3.23zM141.99 295.69h3.23v3.01h-3.23zM141.99 259.61h3.23v3.01h-3.23zM145.22 262.62h3.23v3.01h-3.23zM148.44 253.6h3.23v3.01h-3.23zM148.44 250.6h3.23v3.01h-3.23zM151.67 259.61h3.23v3.01h-3.23zM151.67 256.61h3.23v3.01h-3.23zM151.67 253.6h3.23v3.01h-3.23zM154.9 277.65h3.23v3.01h-3.23zM158.13 289.67h3.23v3.01h-3.23zM158.13 283.66h3.23v3.01h-3.23zM158.13 280.66h3.23v3.01h-3.23zM158.13 238.57h3.23v3.01h-3.23zM158.13 232.56h3.23v3.01h-3.23zM161.36 232.56h3.23v3.01h-3.23zM167.81 274.64h3.23v3.01h-3.23zM167.81 226.55h3.23v3.01h-3.23zM171.04 223.54h3.23v3.01h-3.23zM174.27 268.63h3.23v3.01h-3.23zM177.5 265.63h3.23v3.01h-3.23zM177.5 223.54h3.23v3.01h-3.23zM177.5 214.52h3.23v3.01h-3.23zM183.95 253.6h3.23v3.01h-3.23zM183.95 214.52h3.23v3.01h-3.23zM183.95 211.52h3.23v3.01h-3.23zM187.18 211.52h3.23v3.01h-3.23zM187.18 208.51h3.23v3.01h-3.23zM190.41 250.6h3.23v3.01h-3.23zM190.41 247.59h3.23v3.01h-3.23zM193.64 247.59h3.23v3.01h-3.23zM193.64 202.5h3.23v3.01h-3.23zM193.64 190.48h3.23v3.01h-3.23zM196.86 241.58h3.23v3.01h-3.23zM196.86 199.49h3.23v3.01h-3.23zM196.86 196.49h3.23v3.01h-3.23zM196.86 193.48h3.23v3.01h-3.23zM200.09 190.48h3.23v3.01h-3.23zM203.32 238.57h3.23v3.01h-3.23zM203.32 184.46h3.23v3.01h-3.23zM203.32 178.45h3.23v3.01h-3.23zM206.55 238.57h3.23v3.01h-3.23zM206.55 184.46h3.23v3.01h-3.23zM206.55 178.45h3.23v3.01h-3.23zM209.78 175.45h3.23v3.01h-3.23zM213 226.55h3.23v3.01h-3.23zM213 172.44h3.23v3.01h-3.23zM213 169.43h3.23v3.01h-3.23zM213 160.42h3.23v3.01h-3.23zM216.23 223.54h3.23v3.01h-3.23zM219.46 223.54h3.23v3.01h-3.23zM219.46 172.44h3.23v3.01h-3.23zM219.46 169.43h3.23v3.01h-3.23zM222.69 223.54h3.23v3.01h-3.23zM225.92 169.43h3.23v3.01h-3.23zM229.14 220.54h3.23v3.01h-3.23zM229.14 217.53h3.23v3.01h-3.23zM229.14 163.42h3.23v3.01h-3.23zM229.14 160.42h3.23v3.01h-3.23zM229.14 154.4h3.23v3.01h-3.23zM232.37 214.52h3.23v3.01h-3.23zM235.6 214.52h3.23v3.01h-3.23zM235.6 160.42h3.23v3.01h-3.23zM235.6 154.4h3.23v3.01h-3.23zM235.6 151.4h3.23v3.01h-3.23zM238.83 208.51h3.23v3.01h-3.23zM242.06 151.4h3.23v3.01h-3.23zM245.28 202.5h3.23v3.01h-3.23zM248.51 142.38h3.23v3.01h-3.23zM251.74 136.37h3.23v3.01h-3.23zM251.74 130.36h3.23v3.01h-3.23zM254.97 133.36h3.23v3.01h-3.23zM258.2 127.35h3.23v3.01h-3.23zM258.2 124.34h3.23v3.01h-3.23zM258.2 118.33h3.23v3.01h-3.23zM261.42 130.36h3.23v3.01h-3.23zM261.42 121.34h3.23v3.01h-3.23zM261.42 118.33h3.23v3.01h-3.23zM264.65 190.48h3.23v3.01h-3.23zM264.65 127.35h3.23v3.01h-3.23zM264.65 115.33h3.23v3.01h-3.23zM267.88 178.45h3.23v3.01h-3.23zM267.88 175.45h3.23v3.01h-3.23zM267.88 118.33h3.23v3.01h-3.23zM267.88 115.33h3.23v3.01h-3.23zM271.11 175.45h3.23v3.01h-3.23zM271.11 115.33h3.23v3.01h-3.23zM271.11 109.31h3.23v3.01h-3.23zM274.34 172.44h3.23v3.01h-3.23zM274.34 109.31h3.23v3.01h-3.23zM274.34 106.31h3.23v3.01h-3.23zM277.56 166.43h3.23v3.01h-3.23zM277.56 160.42h3.23v3.01h-3.23zM277.56 112.32h3.23v3.01h-3.23zM277.56 109.31h3.23v3.01h-3.23zM277.56 106.31h3.23v3.01h-3.23zM280.79 103.3h3.23v3.01h-3.23zM284.02 166.43h3.23v3.01h-3.23zM284.02 160.42h3.23v3.01h-3.23zM284.02 106.31h3.23v3.01h-3.23zM284.02 97.29h3.23v3.01h-3.23zM287.25 157.41h3.23v3.01h-3.23zM287.25 109.31h3.23v3.01h-3.23zM287.25 94.28h3.23v3.01h-3.23zM290.48 154.4h3.23v3.01h-3.23zM290.48 151.4h3.23v3.01h-3.23zM290.48 121.34h3.23v3.01h-3.23zM290.48 115.33h3.23v3.01h-3.23zM290.48 103.3h3.23v3.01h-3.23zM290.48 100.3h3.23v3.01h-3.23zM290.48 97.29h3.23v3.01h-3.23zM293.7 157.41h3.23v3.01h-3.23zM296.93 148.39h3.23v3.01h-3.23zM296.93 91.28h3.23v3.01h-3.23zM296.93 88.27h3.23v3.01h-3.23zM300.16 148.39h3.23v3.01h-3.23zM300.16 145.39h3.23v3.01h-3.23zM300.16 97.29h3.23v3.01h-3.23zM300.16 91.28h3.23v3.01h-3.23zM300.16 88.27h3.23v3.01h-3.23zM303.39 151.4h3.23v3.01h-3.23zM303.39 142.38h3.23v3.01h-3.23zM303.39 106.31h3.23v3.01h-3.23zM303.39 91.28h3.23v3.01h-3.23zM306.62 136.37h3.23v3.01h-3.23zM306.62 100.3h3.23v3.01h-3.23zM306.62 94.28h3.23v3.01h-3.23zM309.84 133.36h3.23v3.01h-3.23zM309.84 91.28h3.23v3.01h-3.23zM309.84 88.27h3.23v3.01h-3.23zM313.07 142.38h3.23v3.01h-3.23zM313.07 133.36h3.23v3.01h-3.23zM313.07 97.29h3.23v3.01h-3.23zM313.07 94.28h3.23v3.01h-3.23zM313.07 91.28h3.23v3.01h-3.23zM313.07 85.27h3.23v3.01h-3.23zM316.3 139.37h3.23v3.01h-3.23zM316.3 88.27h3.23v3.01h-3.23zM319.53 133.36h3.23v3.01h-3.23zM319.53 91.28h3.23v3.01h-3.23zM322.76 124.34h3.23v3.01h-3.23zM322.76 109.31h3.23v3.01h-3.23zM322.76 106.31h3.23v3.01h-3.23zM322.76 100.3h3.23v3.01h-3.23zM325.98 109.31h3.23v3.01h-3.23zM325.98 106.31h3.23v3.01h-3.23zM329.21 115.33h3.23v3.01h-3.23zM329.21 109.31h3.23v3.01h-3.23zM329.21 106.31h3.23v3.01h-3.23zM329.21 94.28h3.23v3.01h-3.23zM332.44 112.32h3.23v3.01h-3.23zM332.44 106.31h3.23v3.01h-3.23zM332.44 97.29h3.23v3.01h-3.23zM335.67 118.33h3.23v3.01h-3.23zM335.67 103.3h3.23v3.01h-3.23zM335.67 91.28h3.23v3.01h-3.23zM338.9 91.28h3.23v3.01h-3.23zM338.9 88.27h3.23v3.01h-3.23zM342.12 100.3h3.23v3.01h-3.23zM342.12 91.28h3.23v3.01h-3.23zM342.12 85.27h3.23v3.01h-3.23zM345.35 100.3h3.23v3.01h-3.23zM345.35 94.28h3.23v3.01h-3.23zM348.58 88.27h3.23v3.01h-3.23zM355.04 85.27h3.23v3.01h-3.23zM229.14 157.41h3.23v3.01h-3.23zM119.39 268.63h3.23v3.01h-3.23zM119.39 265.63h3.23v3.01h-3.23zM109.71 280.66h3.23v3.01h-3.23zM109.71 277.65h3.23v3.01h-3.23zM109.71 274.64h3.23v3.01h-3.23zM109.71 286.67h3.23v3.01h-3.23zM112.94 286.67h3.23v3.01h-3.23zM119.39 271.64h3.23v3.01h-3.23zM119.39 283.66h3.23v3.01h-3.23zM122.62 247.59h3.23v3.01h-3.23zM122.62 271.64h3.23v3.01h-3.23zM122.62 268.63h3.23v3.01h-3.23zM122.62 265.63h3.23v3.01h-3.23zM141.99 244.58h3.23v3.01h-3.23zM135.53 250.6h3.23v3.01h-3.23zM141.99 250.6h3.23v3.01h-3.23zM138.76 256.61h3.23v3.01h-3.23zM154.9 286.67h3.23v3.01h-3.23zM374.4 52.2h3.23v3.01h-3.23zM358.26 58.21h3.23v3.01h-3.23zM361.49 58.21h3.23v3.01h-3.23zM358.26 67.23h3.23v3.01h-3.23zM361.49 67.23h3.23v3.01h-3.23zM358.26 64.22h3.23v3.01h-3.23zM361.49 64.22h3.23v3.01h-3.23zM384.09 58.21h3.23v3.01h-3.23zM380.86 61.22h3.23v3.01h-3.23zM384.09 61.22h3.23v3.01h-3.23zM393.77 64.22h3.23v3.01h-3.23zM380.86 73.24h3.23v3.01h-3.23zM393.77 73.24h3.23v3.01h-3.23zM348.58 76.25h3.23v3.01h-3.23zM355.04 76.25h3.23v3.01h-3.23zM361.49 79.25h3.23v3.01h-3.23zM358.26 82.26h3.23v3.01h-3.23zM358.26 85.27h3.23v3.01h-3.23zM348.58 82.26h3.23v3.01h-3.23zM351.81 85.27h3.23v3.01h-3.23zM374.4 82.26h3.23v3.01h-3.23zM351.81 88.27h3.23v3.01h-3.23zM355.04 88.27h3.23v3.01h-3.23zM358.26 88.27h3.23v3.01h-3.23zM374.4 88.27h3.23v3.01h-3.23zM358.26 97.29h3.23v3.01h-3.23zM355.04 103.3h3.23v3.01h-3.23zM345.35 61.22h3.23v3.01h-3.23zM332.44 64.22h3.23v3.01h-3.23zM345.35 70.24h3.23v3.01h-3.23zM335.67 73.24h3.23v3.01h-3.23zM338.9 73.24h3.23v3.01h-3.23zM306.62 76.25h3.23v3.01h-3.23zM313.07 76.25h3.23v3.01h-3.23zM338.9 76.25h3.23v3.01h-3.23zM329.21 79.25h3.23v3.01h-3.23zM335.67 79.25h3.23v3.01h-3.23zM338.9 79.25h3.23v3.01h-3.23zM345.35 79.25h3.23v3.01h-3.23zM316.3 82.26h3.23v3.01h-3.23zM319.53 82.26h3.23v3.01h-3.23zM322.76 82.26h3.23v3.01h-3.23zM338.9 82.26h3.23v3.01h-3.23z"/>
<path fill="#48186a" d="M74.2 346.79h3.23v3.01h-3.23zM93.57 325.75h3.23v3.01h-3.23zM96.8 331.76h3.23v3.01h-3.23zM96.8 322.74h3.23v3.01h-3.23zM106.48 310.72h3.23v3.01h-3.23zM109.71 319.73h3.23v3.01h-3.23zM112.94 301.7h3.23v3.01h-3.23zM116.16 313.72h3.23v3.01h-3.23zM116.16 295.69h3.23v3.01h-3.23zM119.39 289.67h3.23v3.01h-3.23zM122.62 310.72h3.23v3.01h-3.23zM122.62 289.67h3.23v3.01h-3.23zM129.08 280.66h3.23v3.01h-3.23zM132.3 301.7h3.23v3.01h-3.23zM135.53 274.64h3.23v3.01h-3.23zM135.53 271.64h3.23v3.01h-3.23zM135.53 268.63h3.23v3.01h-3.23zM135.53 259.61h3.23v3.01h-3.23zM138.76 295.69h3.23v3.01h-3.23zM141.99 265.63h3.23v3.01h-3.23zM141.99 262.62h3.23v3.01h-3.23zM145.22 289.67h3.23v3.01h-3.23zM148.44 247.59h3.23v3.01h-3.23zM151.67 280.66h3.23v3.01h-3.23zM151.67 277.65h3.23v3.01h-3.23zM154.9 253.6h3.23v3.01h-3.23zM154.9 250.6h3.23v3.01h-3.23zM158.13 274.64h3.23v3.01h-3.23zM158.13 235.57h3.23v3.01h-3.23zM164.58 271.64h3.23v3.01h-3.23zM164.58 232.56h3.23v3.01h-3.23zM167.81 268.63h3.23v3.01h-3.23zM171.04 262.62h3.23v3.01h-3.23zM174.27 229.55h3.23v3.01h-3.23zM174.27 226.55h3.23v3.01h-3.23zM174.27 223.54h3.23v3.01h-3.23zM174.27 220.54h3.23v3.01h-3.23zM177.5 259.61h3.23v3.01h-3.23zM180.72 220.54h3.23v3.01h-3.23zM180.72 217.53h3.23v3.01h-3.23zM190.41 205.51h3.23v3.01h-3.23zM200.09 235.57h3.23v3.01h-3.23zM203.32 235.57h3.23v3.01h-3.23zM209.78 232.56h3.23v3.01h-3.23zM213 229.55h3.23v3.01h-3.23zM213 175.45h3.23v3.01h-3.23zM216.23 178.45h3.23v3.01h-3.23zM219.46 175.45h3.23v3.01h-3.23zM222.69 220.54h3.23v3.01h-3.23zM222.69 169.43h3.23v3.01h-3.23zM222.69 166.43h3.23v3.01h-3.23zM225.92 172.44h3.23v3.01h-3.23zM225.92 166.43h3.23v3.01h-3.23zM232.37 211.52h3.23v3.01h-3.23zM232.37 166.43h3.23v3.01h-3.23zM232.37 154.4h3.23v3.01h-3.23zM238.83 205.51h3.23v3.01h-3.23zM238.83 202.5h3.23v3.01h-3.23zM238.83 151.4h3.23v3.01h-3.23zM242.06 202.5h3.23v3.01h-3.23zM242.06 154.4h3.23v3.01h-3.23zM242.06 142.38h3.23v3.01h-3.23zM245.28 145.39h3.23v3.01h-3.23zM248.51 148.39h3.23v3.01h-3.23zM254.97 193.48h3.23v3.01h-3.23zM254.97 187.47h3.23v3.01h-3.23zM258.2 187.47h3.23v3.01h-3.23zM258.2 133.36h3.23v3.01h-3.23zM261.42 184.46h3.23v3.01h-3.23zM261.42 139.37h3.23v3.01h-3.23zM264.65 118.33h3.23v3.01h-3.23zM267.88 124.34h3.23v3.01h-3.23zM267.88 112.32h3.23v3.01h-3.23zM271.11 169.43h3.23v3.01h-3.23zM271.11 124.34h3.23v3.01h-3.23zM271.11 118.33h3.23v3.01h-3.23zM271.11 112.32h3.23v3.01h-3.23zM274.34 121.34h3.23v3.01h-3.23zM274.34 118.33h3.23v3.01h-3.23zM274.34 115.33h3.23v3.01h-3.23zM277.56 121.34h3.23v3.01h-3.23zM277.56 118.33h3.23v3.01h-3.23zM280.79 157.41h3.23v3.01h-3.23zM280.79 124.34h3.23v3.01h-3.23zM280.79 118.33h3.23v3.01h-3.23zM280.79 115.33h3.23v3.01h-3.23zM280.79 109.31h3.23v3.01h-3.23zM280.79 106.31h3.23v3.01h-3.23zM287.25 151.4h3.23v3.01h-3.23zM287.25 112.32h3.23v3.01h-3.23zM287.25 106.31h3.23v3.01h-3.23zM287.25 103.3h3.23v3.01h-3.23zM290.48 106.31h3.23v3.01h-3.23zM290.48 94.28h3.23v3.01h-3.23zM293.7 151.4h3.23v3.01h-3.23zM293.7 148.39h3.23v3.01h-3.23zM293.7 145.39h3.23v3.01h-3.23zM293.7 115.33h3.23v3.01h-3.23zM293.7 109.31h3.23v3.01h-3.23zM293.7 106.31h3.23v3.01h-3.23zM293.7 100.3h3.23v3.01h-3.23zM293.7 94.28h3.23v3.01h-3.23zM293.7 91.28h3.23v3.01h-3.23zM296.93 142.38h3.23v3.01h-3.23zM296.93 109.31h3.23v3.01h-3.23zM296.93 103.3h3.23v3.01h-3.23zM300.16 142.38h3.23v3.01h-3.23zM303.39 139.37h3.23v3.01h-3.23zM303.39 136.37h3.23v3.01h-3.23zM303.39 97.29h3.23v3.01h-3.23zM303.39 94.28h3.23v3.01h-3.23zM306.62 133.36h3.23v3.01h-3.23zM306.62 103.3h3.23v3.01h-3.23zM309.84 136.37h3.23v3.01h-3.23zM309.84 130.36h3.23v3.01h-3.23zM309.84 100.3h3.23v3.01h-3.23zM309.84 97.29h3.23v3.01h-3.23zM309.84 94.28h3.23v3.01h-3.23zM316.3 133.36h3.23v3.01h-3.23zM316.3 94.28h3.23v3.01h-3.23zM316.3 91.28h3.23v3.01h-3.23zM319.53 136.37h3.23v3.01h-3.23zM319.53 130.36h3.23v3.01h-3.23zM319.53 124.34h3.23v3.01h-3.23zM319.53 118.33h3.23v3.01h-3.23zM319.53 88.27h3.23v3.01h-3.23zM322.76 118.33h3.23v3.01h-3.23zM322.76 115.33h3.23v3.01h-3.23zM322.76 91.28h3.23v3.01h-3.23zM325.98 115.33h3.23v3.01h-3.23zM325.98 103.3h3.23v3.01h-3.23zM325.98 94.28h3.23v3.01h-3.23zM325.98 91.28h3.23v3.01h-3.23zM329.21 103.3h3.23v3.01h-3.23zM329.21 100.3h3.23v3.01h-3.23zM329.21 97.29h3.23v3.01h-3.23zM332.44 103.3h3.23v3.01h-3.23zM332.44 94.28h3.23v3.01h-3.23zM332.44 85.27h3.23v3.01h-3.23zM335.67 106.31h3.23v3.01h-3.23zM335.67 100.3h3.23v3.01h-3.23zM335.67 97.29h3.23v3.01h-3.23zM335.67 94.28h3.23v3.01h-3.23zM335.67 88.27h3.23v3.01h-3.23zM338.9 106.31h3.23v3.01h-3.23zM338.9 85.27h3.23v3.01h-3.23zM345.35 85.27h3.23v3.01h-3.23z"/>
<path fill="#482878" d="M80.66 343.78h3.23v3.01h-3.23zM87.11 337.77h3.23v3.01h-3.23zM93.57 334.76h3.23v3.01h-3.23zM100.02 328.75h3.23v3.01h-3.23zM106.48 322.74h3.23v3.01h-3.23zM106.48 307.71h3.23v3.01h-3.23zM112.94 316.73h3.23v3.01h-3.23zM116.16 298.69h3.23v3.01h-3.23zM119.39 310.72h3.23v3.01h-3.23zM119.39 295.69h3.23v3.01h-3.23zM119.39 292.68h3.23v3.01h-3.23zM122.62 307.71h3.23v3.01h-3.23zM122.62 292.68h3.23v3.01h-3.23zM129.08 283.66h3.23v3.01h-3.23zM138.76 292.68h3.23v3.01h-3.23zM138.76 274.64h3.23v3.01h-3.23zM154.9 247.59h3.23v3.01h-3.23zM158.13 241.58h3.23v3.01h-3.23zM161.36 238.57h3.23v3.01h-3.23zM164.58 235.57h3.23v3.01h-3.23zM174.27 259.61h3.23v3.01h-3.23zM183.95 217.53h3.23v3.01h-3.23zM187.18 214.52h3.23v3.01h-3.23zM203.32 232.56h3.23v3.01h-3.23zM206.55 187.47h3.23v3.01h-3.23zM209.78 181.46h3.23v3.01h-3.23zM222.69 175.45h3.23v3.01h-3.23zM222.69 172.44h3.23v3.01h-3.23zM229.14 166.43h3.23v3.01h-3.23zM235.6 208.51h3.23v3.01h-3.23zM235.6 157.41h3.23v3.01h-3.23zM245.28 196.49h3.23v3.01h-3.23zM245.28 151.4h3.23v3.01h-3.23zM248.51 145.39h3.23v3.01h-3.23zM248.51 139.37h3.23v3.01h-3.23zM251.74 190.48h3.23v3.01h-3.23zM251.74 142.38h3.23v3.01h-3.23zM254.97 190.48h3.23v3.01h-3.23zM258.2 145.39h3.23v3.01h-3.23zM258.2 130.36h3.23v3.01h-3.23zM261.42 178.45h3.23v3.01h-3.23zM264.65 178.45h3.23v3.01h-3.23zM264.65 130.36h3.23v3.01h-3.23zM267.88 172.44h3.23v3.01h-3.23zM277.56 163.42h3.23v3.01h-3.23zM277.56 127.35h3.23v3.01h-3.23zM277.56 124.34h3.23v3.01h-3.23zM280.79 121.34h3.23v3.01h-3.23zM284.02 157.41h3.23v3.01h-3.23zM284.02 115.33h3.23v3.01h-3.23zM287.25 154.4h3.23v3.01h-3.23zM287.25 148.39h3.23v3.01h-3.23zM293.7 139.37h3.23v3.01h-3.23zM296.93 106.31h3.23v3.01h-3.23zM300.16 106.31h3.23v3.01h-3.23zM303.39 133.36h3.23v3.01h-3.23zM303.39 100.3h3.23v3.01h-3.23zM303.39 88.27h3.23v3.01h-3.23zM306.62 127.35h3.23v3.01h-3.23zM306.62 112.32h3.23v3.01h-3.23zM306.62 109.31h3.23v3.01h-3.23zM306.62 106.31h3.23v3.01h-3.23zM306.62 91.28h3.23v3.01h-3.23zM313.07 121.34h3.23v3.01h-3.23zM316.3 127.35h3.23v3.01h-3.23zM316.3 124.34h3.23v3.01h-3.23zM322.76 112.32h3.23v3.01h-3.23zM322.76 97.29h3.23v3.01h-3.23zM322.76 94.28h3.23v3.01h-3.23zM325.98 118.33h3.23v3.01h-3.23z"/>
<path fill="#482071" d="M83.88 343.78h3.23v3.01h-3.23zM87.11 340.78h3.23v3.01h-3.23zM87.11 334.76h3.23v3.01h-3.23zM93.57 322.74h3.23v3.01h-3.23zM103.25 325.75h3.23v3.01h-3.23zM106.48 325.75h3.23v3.01h-3.23zM125.85 307.71h3.23v3.01h-3.23zM132.3 277.65h3.23v3.01h-3.23zM132.3 259.61h3.23v3.01h-3.23zM138.76 271.64h3.23v3.01h-3.23zM148.44 283.66h3.23v3.01h-3.23zM148.44 256.61h3.23v3.01h-3.23zM161.36 274.64h3.23v3.01h-3.23zM161.36 271.64h3.23v3.01h-3.23zM161.36 235.57h3.23v3.01h-3.23zM164.58 268.63h3.23v3.01h-3.23zM167.81 229.55h3.23v3.01h-3.23zM171.04 232.56h3.23v3.01h-3.23zM171.04 226.55h3.23v3.01h-3.23zM174.27 262.62h3.23v3.01h-3.23zM187.18 250.6h3.23v3.01h-3.23zM190.41 244.58h3.23v3.01h-3.23zM193.64 205.51h3.23v3.01h-3.23zM203.32 187.47h3.23v3.01h-3.23zM209.78 229.55h3.23v3.01h-3.23zM216.23 226.55h3.23v3.01h-3.23zM216.23 169.43h3.23v3.01h-3.23zM225.92 217.53h3.23v3.01h-3.23zM229.14 214.52h3.23v3.01h-3.23zM242.06 148.39h3.23v3.01h-3.23zM245.28 199.49h3.23v3.01h-3.23zM245.28 148.39h3.23v3.01h-3.23zM248.51 196.49h3.23v3.01h-3.23zM251.74 133.36h3.23v3.01h-3.23zM254.97 136.37h3.23v3.01h-3.23zM254.97 130.36h3.23v3.01h-3.23zM258.2 184.46h3.23v3.01h-3.23zM258.2 136.37h3.23v3.01h-3.23zM261.42 127.35h3.23v3.01h-3.23zM271.11 130.36h3.23v3.01h-3.23zM271.11 121.34h3.23v3.01h-3.23zM280.79 112.32h3.23v3.01h-3.23zM290.48 148.39h3.23v3.01h-3.23zM290.48 118.33h3.23v3.01h-3.23zM293.7 103.3h3.23v3.01h-3.23zM296.93 145.39h3.23v3.01h-3.23zM296.93 139.37h3.23v3.01h-3.23zM300.16 136.37h3.23v3.01h-3.23zM300.16 133.36h3.23v3.01h-3.23zM300.16 109.31h3.23v3.01h-3.23zM303.39 103.3h3.23v3.01h-3.23zM306.62 139.37h3.23v3.01h-3.23zM306.62 97.29h3.23v3.01h-3.23zM306.62 88.27h3.23v3.01h-3.23zM309.84 121.34h3.23v3.01h-3.23zM313.07 136.37h3.23v3.01h-3.23zM313.07 130.36h3.23v3.01h-3.23zM313.07 124.34h3.23v3.01h-3.23zM313.07 109.31h3.23v3.01h-3.23zM313.07 88.27h3.23v3.01h-3.23zM316.3 85.27h3.23v3.01h-3.23zM319.53 127.35h3.23v3.01h-3.23zM319.53 109.31h3.23v3.01h-3.23zM319.53 97.29h3.23v3.01h-3.23zM319.53 94.28h3.23v3.01h-3.23zM325.98 97.29h3.23v3.01h-3.23zM325.98 88.27h3.23v3.01h-3.23zM325.98 85.27h3.23v3.01h-3.23zM329.21 112.32h3.23v3.01h-3.23zM329.21 88.27h3.23v3.01h-3.23zM332.44 91.28h3.23v3.01h-3.23zM335.67 85.27h3.23v3.01h-3.23z"/>
<path fill="#46307e" d="M90.34 337.77h3.23v3.01h-3.23zM100.02 316.73h3.23v3.01h-3.23zM109.71 310.72h3.23v3.01h-3.23zM125.85 304.7h3.23v3.01h-3.23zM141.99 292.68h3.23v3.01h-3.23zM141.99 271.64h3.23v3.01h-3.23zM148.44 280.66h3.23v3.01h-3.23zM148.44 262.62h3.23v3.01h-3.23zM161.36 241.58h3.23v3.01h-3.23zM167.81 265.63h3.23v3.01h-3.23zM180.72 256.61h3.23v3.01h-3.23zM196.86 238.57h3.23v3.01h-3.23zM203.32 190.48h3.23v3.01h-3.23zM219.46 220.54h3.23v3.01h-3.23zM238.83 160.42h3.23v3.01h-3.23zM261.42 181.46h3.23v3.01h-3.23zM261.42 136.37h3.23v3.01h-3.23zM267.88 121.34h3.23v3.01h-3.23zM271.11 127.35h3.23v3.01h-3.23zM274.34 163.42h3.23v3.01h-3.23zM274.34 112.32h3.23v3.01h-3.23zM280.79 160.42h3.23v3.01h-3.23zM280.79 154.4h3.23v3.01h-3.23zM284.02 112.32h3.23v3.01h-3.23zM287.25 118.33h3.23v3.01h-3.23zM287.25 115.33h3.23v3.01h-3.23zM290.48 145.39h3.23v3.01h-3.23zM293.7 142.38h3.23v3.01h-3.23zM300.16 139.37h3.23v3.01h-3.23zM303.39 127.35h3.23v3.01h-3.23zM303.39 112.32h3.23v3.01h-3.23zM306.62 130.36h3.23v3.01h-3.23zM306.62 121.34h3.23v3.01h-3.23zM309.84 127.35h3.23v3.01h-3.23zM313.07 115.33h3.23v3.01h-3.23zM313.07 106.31h3.23v3.01h-3.23zM313.07 103.3h3.23v3.01h-3.23zM313.07 100.3h3.23v3.01h-3.23zM316.3 97.29h3.23v3.01h-3.23zM319.53 100.3h3.23v3.01h-3.23zM325.98 100.3h3.23v3.01h-3.23z"/>
<path fill="#3e4a89" d="M90.34 334.76h3.23v3.01h-3.23zM103.25 319.73h3.23v3.01h-3.23zM125.85 292.68h3.23v3.01h-3.23zM132.3 295.69h3.23v3.01h-3.23zM141.99 274.64h3.23v3.01h-3.23zM154.9 259.61h3.23v3.01h-3.23zM158.13 271.64h3.23v3.01h-3.23zM164.58 265.63h3.23v3.01h-3.23zM177.5 229.55h3.23v3.01h-3.23zM180.72 226.55h3.23v3.01h-3.23zM193.64 208.51h3.23v3.01h-3.23zM196.86 235.57h3.23v3.01h-3.23zM200.09 232.56h3.23v3.01h-3.23zM213 184.46h3.23v3.01h-3.23zM222.69 214.52h3.23v3.01h-3.23zM229.14 175.45h3.23v3.01h-3.23zM232.37 172.44h3.23v3.01h-3.23zM238.83 199.49h3.23v3.01h-3.23zM248.51 187.47h3.23v3.01h-3.23zM248.51 157.41h3.23v3.01h-3.23zM248.51 154.4h3.23v3.01h-3.23zM251.74 151.4h3.23v3.01h-3.23zM254.97 178.45h3.23v3.01h-3.23zM274.34 157.41h3.23v3.01h-3.23zM274.34 139.37h3.23v3.01h-3.23zM277.56 133.36h3.23v3.01h-3.23zM280.79 133.36h3.23v3.01h-3.23zM284.02 148.39h3.23v3.01h-3.23zM287.25 130.36h3.23v3.01h-3.23zM293.7 133.36h3.23v3.01h-3.23z"/>
<path fill="#463480" d="M93.57 337.77h3.23v3.01h-3.23zM112.94 304.7h3.23v3.01h-3.23zM125.85 289.67h3.23v3.01h-3.23zM132.3 280.66h3.23v3.01h-3.23zM141.99 268.63h3.23v3.01h-3.23zM145.22 268.63h3.23v3.01h-3.23zM145.22 265.63h3.23v3.01h-3.23zM154.9 256.61h3.23v3.01h-3.23zM167.81 235.57h3.23v3.01h-3.23zM167.81 232.56h3.23v3.01h-3.23zM180.72 223.54h3.23v3.01h-3.23zM193.64 241.58h3.23v3.01h-3.23zM203.32 193.48h3.23v3.01h-3.23zM209.78 226.55h3.23v3.01h-3.23zM209.78 184.46h3.23v3.01h-3.23zM219.46 181.46h3.23v3.01h-3.23zM219.46 178.45h3.23v3.01h-3.23zM235.6 205.51h3.23v3.01h-3.23zM238.83 157.41h3.23v3.01h-3.23zM238.83 154.4h3.23v3.01h-3.23zM251.74 145.39h3.23v3.01h-3.23zM254.97 139.37h3.23v3.01h-3.23zM258.2 142.38h3.23v3.01h-3.23zM258.2 139.37h3.23v3.01h-3.23zM264.65 133.36h3.23v3.01h-3.23zM271.11 166.43h3.23v3.01h-3.23zM274.34 160.42h3.23v3.01h-3.23zM277.56 115.33h3.23v3.01h-3.23zM284.02 124.34h3.23v3.01h-3.23zM290.48 109.31h3.23v3.01h-3.23zM293.7 112.32h3.23v3.01h-3.23zM303.39 124.34h3.23v3.01h-3.23zM303.39 121.34h3.23v3.01h-3.23zM303.39 109.31h3.23v3.01h-3.23zM309.84 112.32h3.23v3.01h-3.23zM309.84 109.31h3.23v3.01h-3.23zM309.84 106.31h3.23v3.01h-3.23zM313.07 118.33h3.23v3.01h-3.23zM313.07 112.32h3.23v3.01h-3.23zM316.3 121.34h3.23v3.01h-3.23zM319.53 115.33h3.23v3.01h-3.23zM319.53 106.31h3.23v3.01h-3.23zM322.76 88.27h3.23v3.01h-3.23zM332.44 100.3h3.23v3.01h-3.23z"/>
<path fill="#3d4e8a" d="M93.57 331.76h3.23v3.01h-3.23zM93.57 328.75h3.23v3.01h-3.23zM96.8 328.75h3.23v3.01h-3.23zM100.02 325.75h3.23v3.01h-3.23zM100.02 322.74h3.23v3.01h-3.23zM109.71 316.73h3.23v3.01h-3.23zM112.94 313.72h3.23v3.01h-3.23zM122.62 304.7h3.23v3.01h-3.23zM125.85 301.7h3.23v3.01h-3.23zM132.3 283.66h3.23v3.01h-3.23zM161.36 268.63h3.23v3.01h-3.23zM161.36 247.59h3.23v3.01h-3.23zM164.58 244.58h3.23v3.01h-3.23zM171.04 259.61h3.23v3.01h-3.23zM174.27 256.61h3.23v3.01h-3.23zM190.41 241.58h3.23v3.01h-3.23zM190.41 214.52h3.23v3.01h-3.23zM196.86 208.51h3.23v3.01h-3.23zM200.09 202.5h3.23v3.01h-3.23zM213 220.54h3.23v3.01h-3.23zM225.92 211.52h3.23v3.01h-3.23zM235.6 202.5h3.23v3.01h-3.23zM235.6 166.43h3.23v3.01h-3.23zM242.06 160.42h3.23v3.01h-3.23zM254.97 181.46h3.23v3.01h-3.23zM254.97 151.4h3.23v3.01h-3.23zM261.42 142.38h3.23v3.01h-3.23zM267.88 166.43h3.23v3.01h-3.23zM271.11 163.42h3.23v3.01h-3.23zM277.56 139.37h3.23v3.01h-3.23zM280.79 130.36h3.23v3.01h-3.23zM284.02 145.39h3.23v3.01h-3.23zM284.02 130.36h3.23v3.01h-3.23zM287.25 139.37h3.23v3.01h-3.23zM287.25 124.34h3.23v3.01h-3.23zM290.48 136.37h3.23v3.01h-3.23zM290.48 130.36h3.23v3.01h-3.23zM293.7 127.35h3.23v3.01h-3.23zM296.93 127.35h3.23v3.01h-3.23zM316.3 118.33h3.23v3.01h-3.23zM316.3 109.31h3.23v3.01h-3.23z"/>
<path fill="#414487" d="M96.8 325.75h3.23v3.01h-3.23zM187.18 247.59h3.23v3.01h-3.23zM193.64 238.57h3.23v3.01h-3.23zM196.86 205.51h3.23v3.01h-3.23zM206.55 190.48h3.23v3.01h-3.23zM229.14 211.52h3.23v3.01h-3.23zM229.14 172.44h3.23v3.01h-3.23zM232.37 208.51h3.23v3.01h-3.23zM245.28 193.48h3.23v3.01h-3.23zM251.74 187.47h3.23v3.01h-3.23zM267.88 169.43h3.23v3.01h-3.23zM271.11 139.37h3.23v3.01h-3.23zM274.34 130.36h3.23v3.01h-3.23zM277.56 130.36h3.23v3.01h-3.23zM293.7 136.37h3.23v3.01h-3.23zM306.62 115.33h3.23v3.01h-3.23z"/>
<path fill="#443b84" d="M100.02 319.73h3.23v3.01h-3.23zM112.94 307.71h3.23v3.01h-3.23zM116.16 310.72h3.23v3.01h-3.23zM129.08 286.67h3.23v3.01h-3.23zM154.9 274.64h3.23v3.01h-3.23zM161.36 244.58h3.23v3.01h-3.23zM167.81 238.57h3.23v3.01h-3.23zM177.5 256.61h3.23v3.01h-3.23zM183.95 250.6h3.23v3.01h-3.23zM196.86 202.5h3.23v3.01h-3.23zM200.09 199.49h3.23v3.01h-3.23zM213 181.46h3.23v3.01h-3.23zM222.69 178.45h3.23v3.01h-3.23zM229.14 169.43h3.23v3.01h-3.23zM248.51 151.4h3.23v3.01h-3.23zM251.74 148.39h3.23v3.01h-3.23zM254.97 142.38h3.23v3.01h-3.23zM258.2 181.46h3.23v3.01h-3.23zM264.65 142.38h3.23v3.01h-3.23zM271.11 133.36h3.23v3.01h-3.23zM284.02 127.35h3.23v3.01h-3.23zM290.48 142.38h3.23v3.01h-3.23zM290.48 112.32h3.23v3.01h-3.23zM306.62 124.34h3.23v3.01h-3.23zM309.84 103.3h3.23v3.01h-3.23z"/>
<path fill="#3b528b" d="M103.25 322.74h3.23v3.01h-3.23zM106.48 319.73h3.23v3.01h-3.23zM106.48 316.73h3.23v3.01h-3.23zM119.39 307.71h3.23v3.01h-3.23zM119.39 301.7h3.23v3.01h-3.23zM151.67 262.62h3.23v3.01h-3.23zM167.81 262.62h3.23v3.01h-3.23zM174.27 232.56h3.23v3.01h-3.23zM177.5 253.6h3.23v3.01h-3.23zM177.5 232.56h3.23v3.01h-3.23zM180.72 250.6h3.23v3.01h-3.23zM183.95 223.54h3.23v3.01h-3.23zM203.32 196.49h3.23v3.01h-3.23zM206.55 226.55h3.23v3.01h-3.23zM209.78 223.54h3.23v3.01h-3.23zM213 187.47h3.23v3.01h-3.23zM229.14 208.51h3.23v3.01h-3.23zM238.83 166.43h3.23v3.01h-3.23zM245.28 160.42h3.23v3.01h-3.23zM251.74 184.46h3.23v3.01h-3.23zM251.74 154.4h3.23v3.01h-3.23zM258.2 178.45h3.23v3.01h-3.23zM258.2 151.4h3.23v3.01h-3.23zM261.42 148.39h3.23v3.01h-3.23zM264.65 145.39h3.23v3.01h-3.23zM267.88 142.38h3.23v3.01h-3.23zM271.11 160.42h3.23v3.01h-3.23zM280.79 136.37h3.23v3.01h-3.23zM284.02 142.38h3.23v3.01h-3.23zM300.16 124.34h3.23v3.01h-3.23zM316.3 112.32h3.23v3.01h-3.23zM316.3 106.31h3.23v3.01h-3.23zM316.3 100.3h3.23v3.01h-3.23z"/>
<path fill="#453882" d="M103.25 316.73h3.23v3.01h-3.23zM135.53 277.65h3.23v3.01h-3.23zM145.22 286.67h3.23v3.01h-3.23zM145.22 259.61h3.23v3.01h-3.23zM158.13 244.58h3.23v3.01h-3.23zM164.58 241.58h3.23v3.01h-3.23zM164.58 238.57h3.23v3.01h-3.23zM190.41 211.52h3.23v3.01h-3.23zM200.09 196.49h3.23v3.01h-3.23zM213 223.54h3.23v3.01h-3.23zM232.37 160.42h3.23v3.01h-3.23zM245.28 157.41h3.23v3.01h-3.23zM245.28 154.4h3.23v3.01h-3.23zM254.97 184.46h3.23v3.01h-3.23zM261.42 133.36h3.23v3.01h-3.23zM264.65 175.45h3.23v3.01h-3.23zM267.88 136.37h3.23v3.01h-3.23zM267.88 133.36h3.23v3.01h-3.23zM267.88 130.36h3.23v3.01h-3.23zM274.34 166.43h3.23v3.01h-3.23zM274.34 127.35h3.23v3.01h-3.23zM284.02 154.4h3.23v3.01h-3.23zM284.02 121.34h3.23v3.01h-3.23zM287.25 145.39h3.23v3.01h-3.23zM287.25 127.35h3.23v3.01h-3.23zM290.48 124.34h3.23v3.01h-3.23zM293.7 118.33h3.23v3.01h-3.23zM296.93 136.37h3.23v3.01h-3.23zM296.93 133.36h3.23v3.01h-3.23zM296.93 112.32h3.23v3.01h-3.23zM300.16 127.35h3.23v3.01h-3.23zM300.16 121.34h3.23v3.01h-3.23zM300.16 118.33h3.23v3.01h-3.23zM300.16 115.33h3.23v3.01h-3.23zM300.16 112.32h3.23v3.01h-3.23zM303.39 130.36h3.23v3.01h-3.23zM309.84 124.34h3.23v3.01h-3.23zM313.07 127.35h3.23v3.01h-3.23zM319.53 112.32h3.23v3.01h-3.23zM319.53 103.3h3.23v3.01h-3.23zM332.44 88.27h3.23v3.01h-3.23z"/>
<path fill="#3f4788" d="M106.48 313.72h3.23v3.01h-3.23zM119.39 298.69h3.23v3.01h-3.23zM129.08 301.7h3.23v3.01h-3.23zM135.53 280.66h3.23v3.01h-3.23zM138.76 289.67h3.23v3.01h-3.23zM145.22 283.66h3.23v3.01h-3.23zM187.18 244.58h3.23v3.01h-3.23zM187.18 217.53h3.23v3.01h-3.23zM190.41 208.51h3.23v3.01h-3.23zM203.32 229.55h3.23v3.01h-3.23zM206.55 193.48h3.23v3.01h-3.23zM225.92 178.45h3.23v3.01h-3.23zM225.92 175.45h3.23v3.01h-3.23zM238.83 163.42h3.23v3.01h-3.23zM242.06 199.49h3.23v3.01h-3.23zM242.06 196.49h3.23v3.01h-3.23zM248.51 190.48h3.23v3.01h-3.23zM261.42 175.45h3.23v3.01h-3.23zM264.65 172.44h3.23v3.01h-3.23zM264.65 169.43h3.23v3.01h-3.23zM267.88 139.37h3.23v3.01h-3.23zM274.34 136.37h3.23v3.01h-3.23zM277.56 154.4h3.23v3.01h-3.23zM280.79 148.39h3.23v3.01h-3.23zM284.02 133.36h3.23v3.01h-3.23zM287.25 142.38h3.23v3.01h-3.23zM287.25 133.36h3.23v3.01h-3.23zM290.48 127.35h3.23v3.01h-3.23zM296.93 124.34h3.23v3.01h-3.23zM300.16 130.36h3.23v3.01h-3.23zM303.39 118.33h3.23v3.01h-3.23zM309.84 118.33h3.23v3.01h-3.23zM316.3 115.33h3.23v3.01h-3.23z"/>
<path fill="#39558c" d="M109.71 313.72h3.23v3.01h-3.23zM129.08 289.67h3.23v3.01h-3.23zM135.53 292.68h3.23v3.01h-3.23zM141.99 286.67h3.23v3.01h-3.23zM167.81 241.58h3.23v3.01h-3.23zM174.27 235.57h3.23v3.01h-3.23zM193.64 211.52h3.23v3.01h-3.23zM209.78 190.48h3.23v3.01h-3.23zM219.46 184.46h3.23v3.01h-3.23zM254.97 154.4h3.23v3.01h-3.23zM258.2 148.39h3.23v3.01h-3.23zM267.88 163.42h3.23v3.01h-3.23zM267.88 145.39h3.23v3.01h-3.23zM284.02 136.37h3.23v3.01h-3.23zM290.48 133.36h3.23v3.01h-3.23zM293.7 130.36h3.23v3.01h-3.23z"/>
<path fill="#33638d" d="M112.94 310.72h3.23v3.01h-3.23zM129.08 292.68h3.23v3.01h-3.23zM151.67 274.64h3.23v3.01h-3.23zM151.67 265.63h3.23v3.01h-3.23zM154.9 271.64h3.23v3.01h-3.23zM154.9 262.62h3.23v3.01h-3.23zM158.13 268.63h3.23v3.01h-3.23zM161.36 265.63h3.23v3.01h-3.23zM164.58 262.62h3.23v3.01h-3.23zM167.81 259.61h3.23v3.01h-3.23zM193.64 214.52h3.23v3.01h-3.23zM203.32 199.49h3.23v3.01h-3.23zM209.78 193.48h3.23v3.01h-3.23zM213 190.48h3.23v3.01h-3.23zM222.69 184.46h3.23v3.01h-3.23zM229.14 205.51h3.23v3.01h-3.23zM229.14 178.45h3.23v3.01h-3.23zM235.6 169.43h3.23v3.01h-3.23zM248.51 160.42h3.23v3.01h-3.23zM264.65 151.4h3.23v3.01h-3.23zM267.88 160.42h3.23v3.01h-3.23zM267.88 148.39h3.23v3.01h-3.23zM271.11 154.4h3.23v3.01h-3.23zM274.34 151.4h3.23v3.01h-3.23zM277.56 145.39h3.23v3.01h-3.23zM280.79 142.38h3.23v3.01h-3.23z"/>
<path fill="#31668e" d="M116.16 307.71h3.23v3.01h-3.23zM119.39 304.7h3.23v3.01h-3.23zM158.13 256.61h3.23v3.01h-3.23zM196.86 232.56h3.23v3.01h-3.23zM200.09 229.55h3.23v3.01h-3.23zM200.09 205.51h3.23v3.01h-3.23zM232.37 202.5h3.23v3.01h-3.23zM238.83 169.43h3.23v3.01h-3.23zM248.51 184.46h3.23v3.01h-3.23zM248.51 163.42h3.23v3.01h-3.23zM258.2 172.44h3.23v3.01h-3.23zM261.42 166.43h3.23v3.01h-3.23zM264.65 163.42h3.23v3.01h-3.23zM267.88 151.4h3.23v3.01h-3.23zM274.34 145.39h3.23v3.01h-3.23z"/>
<path fill="#424086" d="M116.16 304.7h3.23v3.01h-3.23zM116.16 301.7h3.23v3.01h-3.23zM122.62 295.69h3.23v3.01h-3.23zM129.08 298.69h3.23v3.01h-3.23zM132.3 298.69h3.23v3.01h-3.23zM135.53 295.69h3.23v3.01h-3.23zM138.76 277.65h3.23v3.01h-3.23zM141.99 289.67h3.23v3.01h-3.23zM148.44 265.63h3.23v3.01h-3.23zM158.13 250.6h3.23v3.01h-3.23zM158.13 247.59h3.23v3.01h-3.23zM171.04 235.57h3.23v3.01h-3.23zM177.5 226.55h3.23v3.01h-3.23zM180.72 253.6h3.23v3.01h-3.23zM183.95 247.59h3.23v3.01h-3.23zM183.95 220.54h3.23v3.01h-3.23zM206.55 229.55h3.23v3.01h-3.23zM209.78 187.47h3.23v3.01h-3.23zM216.23 220.54h3.23v3.01h-3.23zM216.23 184.46h3.23v3.01h-3.23zM219.46 217.53h3.23v3.01h-3.23zM222.69 217.53h3.23v3.01h-3.23zM222.69 181.46h3.23v3.01h-3.23zM225.92 214.52h3.23v3.01h-3.23zM232.37 169.43h3.23v3.01h-3.23zM235.6 163.42h3.23v3.01h-3.23zM242.06 157.41h3.23v3.01h-3.23zM248.51 193.48h3.23v3.01h-3.23zM254.97 148.39h3.23v3.01h-3.23zM254.97 145.39h3.23v3.01h-3.23zM261.42 145.39h3.23v3.01h-3.23zM264.65 139.37h3.23v3.01h-3.23zM264.65 136.37h3.23v3.01h-3.23zM267.88 127.35h3.23v3.01h-3.23zM271.11 136.37h3.23v3.01h-3.23zM274.34 133.36h3.23v3.01h-3.23zM277.56 157.41h3.23v3.01h-3.23zM277.56 136.37h3.23v3.01h-3.23zM280.79 151.4h3.23v3.01h-3.23zM280.79 127.35h3.23v3.01h-3.23zM284.02 151.4h3.23v3.01h-3.23zM284.02 118.33h3.23v3.01h-3.23zM287.25 121.34h3.23v3.01h-3.23zM290.48 139.37h3.23v3.01h-3.23zM293.7 124.34h3.23v3.01h-3.23zM293.7 121.34h3.23v3.01h-3.23zM296.93 130.36h3.23v3.01h-3.23zM296.93 121.34h3.23v3.01h-3.23zM296.93 118.33h3.23v3.01h-3.23zM296.93 115.33h3.23v3.01h-3.23zM303.39 115.33h3.23v3.01h-3.23zM306.62 118.33h3.23v3.01h-3.23zM309.84 115.33h3.23v3.01h-3.23zM316.3 103.3h3.23v3.01h-3.23z"/>
<path fill="#355f8d" d="M122.62 301.7h3.23v3.01h-3.23zM122.62 298.69h3.23v3.01h-3.23zM125.85 295.69h3.23v3.01h-3.23zM135.53 283.66h3.23v3.01h-3.23zM148.44 277.65h3.23v3.01h-3.23zM164.58 247.59h3.23v3.01h-3.23zM167.81 244.58h3.23v3.01h-3.23zM171.04 241.58h3.23v3.01h-3.23zM174.27 238.57h3.23v3.01h-3.23zM190.41 217.53h3.23v3.01h-3.23zM206.55 196.49h3.23v3.01h-3.23zM216.23 217.53h3.23v3.01h-3.23zM222.69 211.52h3.23v3.01h-3.23zM225.92 181.46h3.23v3.01h-3.23zM238.83 196.49h3.23v3.01h-3.23zM254.97 157.41h3.23v3.01h-3.23zM258.2 175.45h3.23v3.01h-3.23zM258.2 154.4h3.23v3.01h-3.23zM277.56 142.38h3.23v3.01h-3.23z"/>
<path fill="#30698e" d="M125.85 298.69h3.23v3.01h-3.23zM129.08 295.69h3.23v3.01h-3.23zM132.3 292.68h3.23v3.01h-3.23zM132.3 289.67h3.23v3.01h-3.23zM135.53 289.67h3.23v3.01h-3.23zM138.76 286.67h3.23v3.01h-3.23zM141.99 277.65h3.23v3.01h-3.23zM145.22 274.64h3.23v3.01h-3.23zM161.36 253.6h3.23v3.01h-3.23zM177.5 250.6h3.23v3.01h-3.23zM177.5 235.57h3.23v3.01h-3.23zM180.72 247.59h3.23v3.01h-3.23zM183.95 226.55h3.23v3.01h-3.23zM187.18 223.54h3.23v3.01h-3.23zM193.64 235.57h3.23v3.01h-3.23zM216.23 190.48h3.23v3.01h-3.23zM242.06 190.48h3.23v3.01h-3.23zM245.28 187.47h3.23v3.01h-3.23zM251.74 160.42h3.23v3.01h-3.23zM254.97 160.42h3.23v3.01h-3.23zM258.2 157.41h3.23v3.01h-3.23zM261.42 154.4h3.23v3.01h-3.23zM271.11 148.39h3.23v3.01h-3.23zM274.34 148.39h3.23v3.01h-3.23z"/>
<path fill="#365c8d" d="M132.3 286.67h3.23v3.01h-3.23zM138.76 280.66h3.23v3.01h-3.23zM158.13 253.6h3.23v3.01h-3.23zM180.72 229.55h3.23v3.01h-3.23zM216.23 187.47h3.23v3.01h-3.23zM219.46 214.52h3.23v3.01h-3.23zM225.92 208.51h3.23v3.01h-3.23zM242.06 166.43h3.23v3.01h-3.23zM245.28 190.48h3.23v3.01h-3.23zM245.28 163.42h3.23v3.01h-3.23zM251.74 181.46h3.23v3.01h-3.23zM261.42 169.43h3.23v3.01h-3.23zM264.65 148.39h3.23v3.01h-3.23zM271.11 157.41h3.23v3.01h-3.23zM271.11 145.39h3.23v3.01h-3.23zM274.34 154.4h3.23v3.01h-3.23zM280.79 145.39h3.23v3.01h-3.23zM280.79 139.37h3.23v3.01h-3.23zM287.25 136.37h3.23v3.01h-3.23z"/>
<path fill="#2e6f8e" d="M135.53 286.67h3.23v3.01h-3.23zM138.76 283.66h3.23v3.01h-3.23zM148.44 271.64h3.23v3.01h-3.23zM164.58 250.6h3.23v3.01h-3.23zM167.81 247.59h3.23v3.01h-3.23zM183.95 244.58h3.23v3.01h-3.23zM190.41 220.54h3.23v3.01h-3.23zM213 193.48h3.23v3.01h-3.23zM229.14 202.5h3.23v3.01h-3.23zM235.6 196.49h3.23v3.01h-3.23zM238.83 193.48h3.23v3.01h-3.23zM238.83 172.44h3.23v3.01h-3.23zM242.06 169.43h3.23v3.01h-3.23zM245.28 166.43h3.23v3.01h-3.23zM251.74 178.45h3.23v3.01h-3.23zM251.74 163.42h3.23v3.01h-3.23zM258.2 169.43h3.23v3.01h-3.23zM261.42 157.41h3.23v3.01h-3.23zM264.65 160.42h3.23v3.01h-3.23z"/>
<path fill="#2f6c8e" d="M141.99 283.66h3.23v3.01h-3.23zM145.22 280.66h3.23v3.01h-3.23zM171.04 256.61h3.23v3.01h-3.23zM174.27 253.6h3.23v3.01h-3.23zM187.18 241.58h3.23v3.01h-3.23zM190.41 238.57h3.23v3.01h-3.23zM196.86 211.52h3.23v3.01h-3.23zM203.32 226.55h3.23v3.01h-3.23zM206.55 223.54h3.23v3.01h-3.23zM219.46 187.47h3.23v3.01h-3.23zM235.6 172.44h3.23v3.01h-3.23zM254.97 175.45h3.23v3.01h-3.23zM264.65 154.4h3.23v3.01h-3.23zM267.88 157.41h3.23v3.01h-3.23zM271.11 151.4h3.23v3.01h-3.23z"/>
<path fill="#2b758e" d="M141.99 280.66h3.23v3.01h-3.23zM158.13 259.61h3.23v3.01h-3.23zM200.09 208.51h3.23v3.01h-3.23zM216.23 193.48h3.23v3.01h-3.23zM222.69 208.51h3.23v3.01h-3.23zM225.92 205.51h3.23v3.01h-3.23zM232.37 199.49h3.23v3.01h-3.23zM235.6 175.45h3.23v3.01h-3.23zM245.28 184.46h3.23v3.01h-3.23z"/>
<path fill="#297b8e" d="M145.22 277.65h3.23v3.01h-3.23zM154.9 268.63h3.23v3.01h-3.23zM161.36 256.61h3.23v3.01h-3.23zM164.58 253.6h3.23v3.01h-3.23zM177.5 238.57h3.23v3.01h-3.23zM187.18 226.55h3.23v3.01h-3.23zM238.83 175.45h3.23v3.01h-3.23zM242.06 187.47h3.23v3.01h-3.23zM242.06 172.44h3.23v3.01h-3.23zM245.28 169.43h3.23v3.01h-3.23zM251.74 175.45h3.23v3.01h-3.23zM254.97 163.42h3.23v3.01h-3.23zM261.42 160.42h3.23v3.01h-3.23z"/>
<path fill="#38598c" d="M145.22 271.64h3.23v3.01h-3.23zM148.44 268.63h3.23v3.01h-3.23zM161.36 250.6h3.23v3.01h-3.23zM171.04 238.57h3.23v3.01h-3.23zM187.18 220.54h3.23v3.01h-3.23zM232.37 205.51h3.23v3.01h-3.23zM232.37 175.45h3.23v3.01h-3.23zM235.6 199.49h3.23v3.01h-3.23zM242.06 193.48h3.23v3.01h-3.23zM242.06 163.42h3.23v3.01h-3.23zM251.74 157.41h3.23v3.01h-3.23zM261.42 172.44h3.23v3.01h-3.23zM261.42 151.4h3.23v3.01h-3.23zM264.65 166.43h3.23v3.01h-3.23zM271.11 142.38h3.23v3.01h-3.23zM274.34 142.38h3.23v3.01h-3.23zM277.56 151.4h3.23v3.01h-3.23zM277.56 148.39h3.23v3.01h-3.23zM284.02 139.37h3.23v3.01h-3.23z"/>
<path fill="#26828e" d="M148.44 274.64h3.23v3.01h-3.23zM164.58 259.61h3.23v3.01h-3.23zM174.27 250.6h3.23v3.01h-3.23zM177.5 247.59h3.23v3.01h-3.23zM190.41 235.57h3.23v3.01h-3.23zM196.86 229.55h3.23v3.01h-3.23zM203.32 205.51h3.23v3.01h-3.23zM206.55 202.5h3.23v3.01h-3.23zM229.14 184.46h3.23v3.01h-3.23zM235.6 193.48h3.23v3.01h-3.23zM235.6 178.45h3.23v3.01h-3.23zM248.51 169.43h3.23v3.01h-3.23zM254.97 169.43h3.23v3.01h-3.23zM258.2 163.42h3.23v3.01h-3.23z"/>
<path fill="#277e8e" d="M151.67 271.64h3.23v3.01h-3.23zM158.13 265.63h3.23v3.01h-3.23zM158.13 262.62h3.23v3.01h-3.23zM161.36 262.62h3.23v3.01h-3.23zM167.81 256.61h3.23v3.01h-3.23zM167.81 250.6h3.23v3.01h-3.23zM171.04 253.6h3.23v3.01h-3.23zM180.72 235.57h3.23v3.01h-3.23zM190.41 223.54h3.23v3.01h-3.23zM196.86 214.52h3.23v3.01h-3.23zM209.78 199.49h3.23v3.01h-3.23zM232.37 181.46h3.23v3.01h-3.23zM248.51 178.45h3.23v3.01h-3.23z"/>
<path fill="#2c728e" d="M151.67 268.63h3.23v3.01h-3.23zM171.04 244.58h3.23v3.01h-3.23zM180.72 232.56h3.23v3.01h-3.23zM203.32 202.5h3.23v3.01h-3.23zM206.55 199.49h3.23v3.01h-3.23zM209.78 220.54h3.23v3.01h-3.23zM209.78 196.49h3.23v3.01h-3.23zM213 217.53h3.23v3.01h-3.23zM219.46 211.52h3.23v3.01h-3.23zM222.69 187.47h3.23v3.01h-3.23zM225.92 184.46h3.23v3.01h-3.23zM229.14 181.46h3.23v3.01h-3.23zM232.37 178.45h3.23v3.01h-3.23zM248.51 181.46h3.23v3.01h-3.23zM254.97 172.44h3.23v3.01h-3.23zM258.2 160.42h3.23v3.01h-3.23zM264.65 157.41h3.23v3.01h-3.23zM267.88 154.4h3.23v3.01h-3.23z"/>
<path fill="#2a788e" d="M154.9 265.63h3.23v3.01h-3.23zM174.27 241.58h3.23v3.01h-3.23zM183.95 229.55h3.23v3.01h-3.23zM193.64 217.53h3.23v3.01h-3.23zM216.23 214.52h3.23v3.01h-3.23zM219.46 190.48h3.23v3.01h-3.23zM238.83 190.48h3.23v3.01h-3.23zM248.51 166.43h3.23v3.01h-3.23zM251.74 166.43h3.23v3.01h-3.23zM258.2 166.43h3.23v3.01h-3.23zM261.42 163.42h3.23v3.01h-3.23z"/>
<path fill="#25848e" d="M161.36 259.61h3.23v3.01h-3.23zM171.04 247.59h3.23v3.01h-3.23zM180.72 244.58h3.23v3.01h-3.23zM183.95 241.58h3.23v3.01h-3.23zM183.95 232.56h3.23v3.01h-3.23zM187.18 238.57h3.23v3.01h-3.23zM193.64 232.56h3.23v3.01h-3.23zM200.09 211.52h3.23v3.01h-3.23zM213 196.49h3.23v3.01h-3.23zM225.92 187.47h3.23v3.01h-3.23zM232.37 196.49h3.23v3.01h-3.23zM245.28 181.46h3.23v3.01h-3.23zM254.97 166.43h3.23v3.01h-3.23z"/>
<path fill="#24878e" d="M164.58 256.61h3.23v3.01h-3.23zM174.27 244.58h3.23v3.01h-3.23zM193.64 220.54h3.23v3.01h-3.23zM200.09 226.55h3.23v3.01h-3.23zM203.32 223.54h3.23v3.01h-3.23zM222.69 205.51h3.23v3.01h-3.23zM222.69 190.48h3.23v3.01h-3.23zM225.92 202.5h3.23v3.01h-3.23zM229.14 199.49h3.23v3.01h-3.23zM242.06 184.46h3.23v3.01h-3.23zM242.06 175.45h3.23v3.01h-3.23zM245.28 172.44h3.23v3.01h-3.23zM251.74 172.44h3.23v3.01h-3.23zM251.74 169.43h3.23v3.01h-3.23z"/>
<path fill="#228d8d" d="M167.81 253.6h3.23v3.01h-3.23zM177.5 241.58h3.23v3.01h-3.23zM187.18 229.55h3.23v3.01h-3.23zM219.46 208.51h3.23v3.01h-3.23zM238.83 187.47h3.23v3.01h-3.23zM238.83 178.45h3.23v3.01h-3.23zM248.51 175.45h3.23v3.01h-3.23z"/>
<path fill="#20938c" d="M171.04 250.6h3.23v3.01h-3.23zM190.41 226.55h3.23v3.01h-3.23zM206.55 205.51h3.23v3.01h-3.23zM232.37 184.46h3.23v3.01h-3.23zM245.28 175.45h3.23v3.01h-3.23z"/>
<path fill="#1f998a" d="M174.27 247.59h3.23v3.01h-3.23zM183.95 235.57h3.23v3.01h-3.23zM219.46 196.49h3.23v3.01h-3.23zM242.06 181.46h3.23v3.01h-3.23zM242.06 178.45h3.23v3.01h-3.23z"/>
<path fill="#1e9c89" d="M177.5 244.58h3.23v3.01h-3.23zM193.64 223.54h3.23v3.01h-3.23zM216.23 199.49h3.23v3.01h-3.23zM229.14 196.49h3.23v3.01h-3.23zM238.83 181.46h3.23v3.01h-3.23z"/>
<path fill="#1fa088" d="M180.72 241.58h3.23v3.01h-3.23zM183.95 238.57h3.23v3.01h-3.23zM187.18 232.56h3.23v3.01h-3.23zM203.32 211.52h3.23v3.01h-3.23zM225.92 199.49h3.23v3.01h-3.23zM238.83 184.46h3.23v3.01h-3.23z"/>
<path fill="#1f968b" d="M180.72 238.57h3.23v3.01h-3.23zM200.09 214.52h3.23v3.01h-3.23zM222.69 193.48h3.23v3.01h-3.23zM225.92 190.48h3.23v3.01h-3.23zM232.37 193.48h3.23v3.01h-3.23z"/>
<path fill="#1fa287" d="M187.18 235.57h3.23v3.01h-3.23zM190.41 232.56h3.23v3.01h-3.23zM196.86 220.54h3.23v3.01h-3.23zM206.55 208.51h3.23v3.01h-3.23zM209.78 205.51h3.23v3.01h-3.23zM213 202.5h3.23v3.01h-3.23zM222.69 202.5h3.23v3.01h-3.23zM235.6 184.46h3.23v3.01h-3.23z"/>
<path fill="#22a884" d="M190.41 229.55h3.23v3.01h-3.23zM193.64 229.55h3.23v3.01h-3.23zM196.86 226.55h3.23v3.01h-3.23zM235.6 187.47h3.23v3.01h-3.23z"/>
<path fill="#2cb17e" d="M193.64 226.55h3.23v3.01h-3.23zM213 211.52h3.23v3.01h-3.23z"/>
<path fill="#3fbc73" d="M196.86 223.54h3.23v3.01h-3.23zM203.32 214.52h3.23v3.01h-3.23zM216.23 202.5h3.23v3.01h-3.23zM225.92 196.49h3.23v3.01h-3.23z"/>
<path fill="#21918c" d="M196.86 217.53h3.23v3.01h-3.23zM203.32 208.51h3.23v3.01h-3.23zM209.78 202.5h3.23v3.01h-3.23zM213 199.49h3.23v3.01h-3.23zM229.14 187.47h3.23v3.01h-3.23zM235.6 190.48h3.23v3.01h-3.23zM235.6 181.46h3.23v3.01h-3.23zM245.28 178.45h3.23v3.01h-3.23zM248.51 172.44h3.23v3.01h-3.23z"/>
<path fill="#28ae80" d="M200.09 223.54h3.23v3.01h-3.23zM200.09 217.53h3.23v3.01h-3.23zM225.92 193.48h3.23v3.01h-3.23zM232.37 190.48h3.23v3.01h-3.23z"/>
<path fill="#6ccd5a" d="M200.09 220.54h3.23v3.01h-3.23zM219.46 202.5h3.23v3.01h-3.23z"/>
<path fill="#2fb47c" d="M203.32 220.54h3.23v3.01h-3.23zM222.69 196.49h3.23v3.01h-3.23z"/>
<path fill="#addc30" d="M203.32 217.53h3.23v3.01h-3.23zM213 208.51h3.23v3.01h-3.23z"/>
<path fill="#238a8d" d="M206.55 220.54h3.23v3.01h-3.23zM209.78 217.53h3.23v3.01h-3.23zM213 214.52h3.23v3.01h-3.23zM216.23 211.52h3.23v3.01h-3.23zM216.23 196.49h3.23v3.01h-3.23zM219.46 193.48h3.23v3.01h-3.23z"/>
<path fill="#34b679" d="M206.55 217.53h3.23v3.01h-3.23zM209.78 214.52h3.23v3.01h-3.23zM219.46 199.49h3.23v3.01h-3.23zM229.14 193.48h3.23v3.01h-3.23z"/>
<path fill="#f6e620" d="M206.55 214.52h3.23v3.01h-3.23z"/>
<path fill="#5ec962" d="M206.55 211.52h3.23v3.01h-3.23z"/>
<path fill="#e7e419" d="M209.78 211.52h3.23v3.01h-3.23z"/>
<path fill="#50c46a" d="M209.78 208.51h3.23v3.01h-3.23zM222.69 199.49h3.23v3.01h-3.23z"/>
<path fill="#44bf70" d="M213 205.51h3.23v3.01h-3.23z"/>
<path fill="#25ab82" d="M216.23 208.51h3.23v3.01h-3.23zM229.14 190.48h3.23v3.01h-3.23z"/>
<path fill="#8bd646" d="M216.23 205.51h3.23v3.01h-3.23z"/>
<path fill="#21a585" d="M219.46 205.51h3.23v3.01h-3.23zM232.37 187.47h3.23v3.01h-3.23z"/>
</g>
<line x1="61.20" y1="367.30" x2="405.50" y2="10.30" stroke="#000" stroke-width="1.6" stroke-dasharray="5.12 2.757" stroke-dashoffset="0"/>
<rect x="61.20" y="10.30" width="344.30" height="357.00" fill="none" stroke="#000" stroke-width="0.7" stroke-opacity="0.85"/>
<line x1="61.20" y1="367.30" x2="61.20" y2="370.30" stroke="#000" stroke-width="0.7"/>
<text transform="translate(61.20,384.20) scale(0.935,1)" font-size="15.1" text-anchor="middle">−60</text>
<line x1="58.20" y1="367.30" x2="61.20" y2="367.30" stroke="#000" stroke-width="0.7"/>
<text transform="translate(56.30,373.60) scale(0.935,1)" font-size="15.1" text-anchor="end">−60</text>
<line x1="110.39" y1="367.30" x2="110.39" y2="370.30" stroke="#000" stroke-width="0.7"/>
<text transform="translate(110.39,384.20) scale(0.935,1)" font-size="15.1" text-anchor="middle">−40</text>
<line x1="58.20" y1="316.30" x2="61.20" y2="316.30" stroke="#000" stroke-width="0.7"/>
<text transform="translate(56.30,322.60) scale(0.935,1)" font-size="15.1" text-anchor="end">−40</text>
<line x1="159.57" y1="367.30" x2="159.57" y2="370.30" stroke="#000" stroke-width="0.7"/>
<text transform="translate(159.57,384.20) scale(0.935,1)" font-size="15.1" text-anchor="middle">−20</text>
<line x1="58.20" y1="265.30" x2="61.20" y2="265.30" stroke="#000" stroke-width="0.7"/>
<text transform="translate(56.30,271.60) scale(0.935,1)" font-size="15.1" text-anchor="end">−20</text>
<line x1="208.76" y1="367.30" x2="208.76" y2="370.30" stroke="#000" stroke-width="0.7"/>
<text transform="translate(208.76,384.20) scale(0.935,1)" font-size="15.1" text-anchor="middle">0</text>
<line x1="58.20" y1="214.30" x2="61.20" y2="214.30" stroke="#000" stroke-width="0.7"/>
<text transform="translate(56.30,220.60) scale(0.935,1)" font-size="15.1" text-anchor="end">0</text>
<line x1="257.94" y1="367.30" x2="257.94" y2="370.30" stroke="#000" stroke-width="0.7"/>
<text transform="translate(257.94,384.20) scale(0.935,1)" font-size="15.1" text-anchor="middle">20</text>
<line x1="58.20" y1="163.30" x2="61.20" y2="163.30" stroke="#000" stroke-width="0.7"/>
<text transform="translate(56.30,169.60) scale(0.935,1)" font-size="15.1" text-anchor="end">20</text>
<line x1="307.13" y1="367.30" x2="307.13" y2="370.30" stroke="#000" stroke-width="0.7"/>
<text transform="translate(307.13,384.20) scale(0.935,1)" font-size="15.1" text-anchor="middle">40</text>
<line x1="58.20" y1="112.30" x2="61.20" y2="112.30" stroke="#000" stroke-width="0.7"/>
<text transform="translate(56.30,118.60) scale(0.935,1)" font-size="15.1" text-anchor="end">40</text>
<line x1="356.31" y1="367.30" x2="356.31" y2="370.30" stroke="#000" stroke-width="0.7"/>
<text transform="translate(356.31,384.20) scale(0.935,1)" font-size="15.1" text-anchor="middle">60</text>
<line x1="58.20" y1="61.30" x2="61.20" y2="61.30" stroke="#000" stroke-width="0.7"/>
<text transform="translate(56.30,67.60) scale(0.935,1)" font-size="15.1" text-anchor="end">60</text>
<line x1="405.50" y1="367.30" x2="405.50" y2="370.30" stroke="#000" stroke-width="0.7"/>
<text transform="translate(405.50,384.20) scale(0.935,1)" font-size="15.1" text-anchor="middle">80</text>
<line x1="58.20" y1="10.30" x2="61.20" y2="10.30" stroke="#000" stroke-width="0.7"/>
<text transform="translate(56.30,16.60) scale(0.935,1)" font-size="15.1" text-anchor="end">80</text>
<text x="233.3" y="404.1" font-size="19.3" text-anchor="middle">Δ<tspan class="i" dx="0.3" font-size="20.07">PM</tspan><tspan font-size="13.51" dy="3.2">2.5</tspan><tspan dy="-3.2" dx="0.8">,GCHP</tspan></text>
<text transform="translate(19.7,188.6) rotate(-90) scale(1,1.05)" font-size="19.9" text-anchor="middle">Δ<tspan class="i" dx="-0.4" font-size="20.70">PM</tspan><tspan font-size="13.93" dy="3.3">2.5</tspan><tspan dy="-3.3" dx="0.8">,GW-GPR</tspan></text>
<text x="86" y="61.2" font-size="16.75"><tspan class="i">R</tspan><tspan font-size="12.56" dy="-6" dx="1">2</tspan><tspan dy="6">=0.97</tspan></text>
<text x="86" y="86.3" font-size="16.75">MAE=0.356 <tspan class="i">μ</tspan>g <tspan class="i">m</tspan><tspan font-size="12.56" dy="-6">−3</tspan></text>
<text x="86" y="112.1" font-size="16.75">MB=-0.012 <tspan class="i">μ</tspan>g <tspan class="i">m</tspan><tspan font-size="12.56" dy="-6">−3</tspan></text>
<text x="86" y="138" font-size="16.75">N=672720</text>
<rect x="426.50" y="10.30" width="18.00" height="357.00" fill="url(#vg)" stroke="#000" stroke-width="0.7" stroke-opacity="0.85"/>
<line x1="444.50" y1="367.30" x2="447.50" y2="367.30" stroke="#000" stroke-width="0.7"/>
<text transform="translate(449.30,373.00) scale(0.925,1)" font-size="14.65">10<tspan font-size="10.3" dy="-5.4" dx="0.7">0</tspan></text>
<line x1="444.50" y1="346.61" x2="446.20" y2="346.61" stroke="#000" stroke-width="0.5"/>
<line x1="444.50" y1="334.50" x2="446.20" y2="334.50" stroke="#000" stroke-width="0.5"/>
<line x1="444.50" y1="325.91" x2="446.20" y2="325.91" stroke="#000" stroke-width="0.5"/>
<line x1="444.50" y1="319.25" x2="446.20" y2="319.25" stroke="#000" stroke-width="0.5"/>
<line x1="444.50" y1="313.81" x2="446.20" y2="313.81" stroke="#000" stroke-width="0.5"/>
<line x1="444.50" y1="309.21" x2="446.20" y2="309.21" stroke="#000" stroke-width="0.5"/>
<line x1="444.50" y1="305.22" x2="446.20" y2="305.22" stroke="#000" stroke-width="0.5"/>
<line x1="444.50" y1="301.71" x2="446.20" y2="301.71" stroke="#000" stroke-width="0.5"/>
<line x1="444.50" y1="298.56" x2="447.50" y2="298.56" stroke="#000" stroke-width="0.7"/>
<text transform="translate(449.30,304.26) scale(0.925,1)" font-size="14.65">10<tspan font-size="10.3" dy="-5.4" dx="0.7">1</tspan></text>
<line x1="444.50" y1="277.87" x2="446.20" y2="277.87" stroke="#000" stroke-width="0.5"/>
<line x1="444.50" y1="265.76" x2="446.20" y2="265.76" stroke="#000" stroke-width="0.5"/>
<line x1="444.50" y1="257.17" x2="446.20" y2="257.17" stroke="#000" stroke-width="0.5"/>
<line x1="444.50" y1="250.51" x2="446.20" y2="250.51" stroke="#000" stroke-width="0.5"/>
<line x1="444.50" y1="245.07" x2="446.20" y2="245.07" stroke="#000" stroke-width="0.5"/>
<line x1="444.50" y1="240.47" x2="446.20" y2="240.47" stroke="#000" stroke-width="0.5"/>
<line x1="444.50" y1="236.48" x2="446.20" y2="236.48" stroke="#000" stroke-width="0.5"/>
<line x1="444.50" y1="232.97" x2="446.20" y2="232.97" stroke="#000" stroke-width="0.5"/>
<line x1="444.50" y1="229.82" x2="447.50" y2="229.82" stroke="#000" stroke-width="0.7"/>
<text transform="translate(449.30,235.52) scale(0.925,1)" font-size="14.65">10<tspan font-size="10.3" dy="-5.4" dx="0.7">2</tspan></text>
<line x1="444.50" y1="209.13" x2="446.20" y2="209.13" stroke="#000" stroke-width="0.5"/>
<line x1="444.50" y1="197.02" x2="446.20" y2="197.02" stroke="#000" stroke-width="0.5"/>
<line x1="444.50" y1="188.43" x2="446.20" y2="188.43" stroke="#000" stroke-width="0.5"/>
<line x1="444.50" y1="181.77" x2="446.20" y2="181.77" stroke="#000" stroke-width="0.5"/>
<line x1="444.50" y1="176.33" x2="446.20" y2="176.33" stroke="#000" stroke-width="0.5"/>
<line x1="444.50" y1="171.73" x2="446.20" y2="171.73" stroke="#000" stroke-width="0.5"/>
<line x1="444.50" y1="167.74" x2="446.20" y2="167.74" stroke="#000" stroke-width="0.5"/>
<line x1="444.50" y1="164.23" x2="446.20" y2="164.23" stroke="#000" stroke-width="0.5"/>
<line x1="444.50" y1="161.08" x2="447.50" y2="161.08" stroke="#000" stroke-width="0.7"/>
<text transform="translate(449.30,166.78) scale(0.925,1)" font-size="14.65">10<tspan font-size="10.3" dy="-5.4" dx="0.7">3</tspan></text>
<line x1="444.50" y1="140.39" x2="446.20" y2="140.39" stroke="#000" stroke-width="0.5"/>
<line x1="444.50" y1="128.28" x2="446.20" y2="128.28" stroke="#000" stroke-width="0.5"/>
<line x1="444.50" y1="119.69" x2="446.20" y2="119.69" stroke="#000" stroke-width="0.5"/>
<line x1="444.50" y1="113.03" x2="446.20" y2="113.03" stroke="#000" stroke-width="0.5"/>
<line x1="444.50" y1="107.59" x2="446.20" y2="107.59" stroke="#000" stroke-width="0.5"/>
<line x1="444.50" y1="102.99" x2="446.20" y2="102.99" stroke="#000" stroke-width="0.5"/>
<line x1="444.50" y1="99.00" x2="446.20" y2="99.00" stroke="#000" stroke-width="0.5"/>
<line x1="444.50" y1="95.49" x2="446.20" y2="95.49" stroke="#000" stroke-width="0.5"/>
<line x1="444.50" y1="92.34" x2="447.50" y2="92.34" stroke="#000" stroke-width="0.7"/>
<text transform="translate(449.30,98.04) scale(0.925,1)" font-size="14.65">10<tspan font-size="10.3" dy="-5.4" dx="0.7">4</tspan></text>
<line x1="444.50" y1="71.65" x2="446.20" y2="71.65" stroke="#000" stroke-width="0.5"/>
<line x1="444.50" y1="59.54" x2="446.20" y2="59.54" stroke="#000" stroke-width="0.5"/>
<line x1="444.50" y1="50.95" x2="446.20" y2="50.95" stroke="#000" stroke-width="0.5"/>
<line x1="444.50" y1="44.29" x2="446.20" y2="44.29" stroke="#000" stroke-width="0.5"/>
<line x1="444.50" y1="38.85" x2="446.20" y2="38.85" stroke="#000" stroke-width="0.5"/>
<line x1="444.50" y1="34.25" x2="446.20" y2="34.25" stroke="#000" stroke-width="0.5"/>
<line x1="444.50" y1="30.26" x2="446.20" y2="30.26" stroke="#000" stroke-width="0.5"/>
<line x1="444.50" y1="26.75" x2="446.20" y2="26.75" stroke="#000" stroke-width="0.5"/>
<line x1="444.50" y1="23.60" x2="447.50" y2="23.60" stroke="#000" stroke-width="0.7"/>
<text transform="translate(449.30,29.30) scale(0.925,1)" font-size="14.65">10<tspan font-size="10.3" dy="-5.4" dx="0.7">5</tspan></text>
<text transform="translate(480.3,188.4) rotate(90)" font-size="20.2" text-anchor="middle">Counts</text>
</svg></body></html>
